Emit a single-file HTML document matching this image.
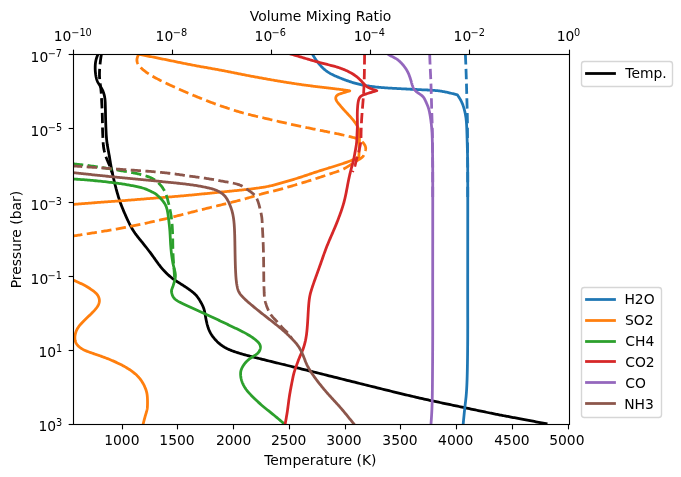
<!DOCTYPE html>
<html lang="en">
<head>
<meta charset="utf-8">
<title>Temperature and volume mixing ratio profiles</title>
<style>
html,body{margin:0;padding:0;background:#fff;}
body{width:681px;height:477px;overflow:hidden;}
svg{display:block;}
text{font-family:"DejaVu Sans","Liberation Sans",sans-serif;font-size:13.889px;fill:#000;}
.sup{font-size:9.722px;}
.sp{fill:none;stroke:#000;stroke-width:1.111;stroke-linecap:square;stroke-linejoin:miter;}
.tk{fill:none;stroke:#000;stroke-width:1.111;stroke-linecap:butt;}
.ln{fill:none;stroke-width:2.778;stroke-linejoin:round;stroke-linecap:square;}
.ld{fill:none;stroke-width:2.778;stroke-linejoin:round;stroke-linecap:butt;stroke-dasharray:10.28 4.44;}
.lg{fill:#fff;fill-opacity:0.8;stroke:#ccc;stroke-opacity:0.8;stroke-width:1.389;}
</style>
</head>
<body>
<svg width="681" height="477" viewBox="0 0 681 477">
<rect x="0" y="0" width="681" height="477" fill="#fff"/>
<clipPath id="ax"><rect x="73" y="54" width="496" height="370"/></clipPath>
<g>
<line class="tk" x1="122.5" y1="424.5" x2="122.5" y2="429.36"/><text x="121.88" y="445" text-anchor="middle">1000</text>
<line class="tk" x1="177.5" y1="424.5" x2="177.5" y2="429.36"/><text x="176.97" y="445" text-anchor="middle">1500</text>
<line class="tk" x1="233.5" y1="424.5" x2="233.5" y2="429.36"/><text x="233.63" y="445" text-anchor="middle">2000</text>
<line class="tk" x1="289.5" y1="424.5" x2="289.5" y2="429.36"/><text x="288.70" y="445" text-anchor="middle">2500</text>
<line class="tk" x1="345.5" y1="424.5" x2="345.5" y2="429.36"/><text x="343.93" y="445" text-anchor="middle">3000</text>
<line class="tk" x1="400.5" y1="424.5" x2="400.5" y2="429.36"/><text x="400.02" y="445" text-anchor="middle">3500</text>
<line class="tk" x1="456.5" y1="424.5" x2="456.5" y2="429.36"/><text x="455.78" y="445" text-anchor="middle">4000</text>
<line class="tk" x1="512.5" y1="424.5" x2="512.5" y2="429.36"/><text x="511.92" y="445" text-anchor="middle">4500</text>
<line class="tk" x1="568.5" y1="424.5" x2="568.5" y2="429.36"/><text x="566.89" y="445" text-anchor="middle">5000</text>
<line class="tk" x1="73.5" y1="54.5" x2="73.5" y2="49.64"/><text y="41"><tspan x="53.68">10</tspan><tspan class="sup" x="71.28" dy="-5">−10</tspan></text>
<line class="tk" x1="172.5" y1="54.5" x2="172.5" y2="49.64"/><text y="41"><tspan x="155.58">10</tspan><tspan class="sup" x="172.77" dy="-5">−8</tspan></text>
<line class="tk" x1="271.5" y1="54.5" x2="271.5" y2="49.64"/><text y="41"><tspan x="254.59">10</tspan><tspan class="sup" x="271.57" dy="-5">−6</tspan></text>
<line class="tk" x1="370.5" y1="54.5" x2="370.5" y2="49.64"/><text y="41"><tspan x="353.65">10</tspan><tspan class="sup" x="370.56" dy="-5">−4</tspan></text>
<line class="tk" x1="469.5" y1="54.5" x2="469.5" y2="49.64"/><text y="41"><tspan x="453.58">10</tspan><tspan class="sup" x="470.59" dy="-5">−2</tspan></text>
<line class="tk" x1="569.5" y1="54.5" x2="569.5" y2="49.64"/><text y="41"><tspan x="556.69">10</tspan><tspan class="sup" x="574.05" dy="-5">0</tspan></text>
<line class="tk" x1="73.5" y1="54.5" x2="68.64" y2="54.5"/><text y="62"><tspan x="30.59">10</tspan><tspan class="sup" x="47.73" dy="-5">−7</tspan></text>
<line class="tk" x1="73.5" y1="128.5" x2="68.64" y2="128.5"/><text y="136"><tspan x="30.59">10</tspan><tspan class="sup" x="47.81" dy="-5">−5</tspan></text>
<line class="tk" x1="73.5" y1="202.5" x2="68.64" y2="202.5"/><text y="210"><tspan x="30.59">10</tspan><tspan class="sup" x="47.66" dy="-5">−3</tspan></text>
<line class="tk" x1="73.5" y1="276.5" x2="68.64" y2="276.5"/><text y="284"><tspan x="30.59">10</tspan><tspan class="sup" x="47.54" dy="-5">−1</tspan></text>
<line class="tk" x1="73.5" y1="350.5" x2="68.64" y2="350.5"/><text y="357"><tspan x="38.55">10</tspan><tspan class="sup" x="55.96" dy="-5">1</tspan></text>
<line class="tk" x1="73.5" y1="424.5" x2="68.64" y2="424.5"/><text y="431"><tspan x="38.55">10</tspan><tspan class="sup" x="56.10" dy="-5">3</tspan></text>
</g>
<text x="320.35" y="465" text-anchor="middle">Temperature (K)</text>
<text x="320.57" y="21" text-anchor="middle">Volume Mixing Ratio</text>
<text transform="translate(21.36 239.61) rotate(-90)" text-anchor="middle">Pressure (bar)</text>
<g clip-path="url(#ax)">
<path class="ln" stroke="#000" d="M98.00 54.20 L97.79 54.71 L97.59 55.22 L97.39 55.73 L97.19 56.25 L97.00 56.77 L96.81 57.29 L96.63 57.82 L96.46 58.35 L96.29 58.90 L96.14 59.44 L96.00 60.00 L95.87 60.57 L95.76 61.14 L95.65 61.73 L95.56 62.32 L95.48 62.91 L95.41 63.51 L95.35 64.11 L95.30 64.72 L95.26 65.32 L95.23 65.93 L95.21 66.53 L95.20 67.13 L95.19 67.73 L95.19 68.33 L95.20 68.92 L95.22 69.52 L95.25 70.11 L95.28 70.70 L95.32 71.29 L95.37 71.89 L95.43 72.48 L95.49 73.08 L95.56 73.68 L95.64 74.28 L95.72 74.89 L95.82 75.49 L95.92 76.10 L96.03 76.70 L96.16 77.30 L96.30 77.90 L96.45 78.49 L96.61 79.07 L96.79 79.64 L96.99 80.21 L97.20 80.76 L97.43 81.29 L97.68 81.82 L97.94 82.33 L98.21 82.83 L98.50 83.33 L98.79 83.81 L99.09 84.29 L99.39 84.77 L99.70 85.24 L100.00 85.72 L100.31 86.19 L100.60 86.67 L100.90 87.15 L101.18 87.63 L101.46 88.12 L101.73 88.61 L102.00 89.10 L102.25 89.60 L102.49 90.10 L102.73 90.61 L102.95 91.13 L103.16 91.65 L103.36 92.17 L103.55 92.70 L103.73 93.23 L103.89 93.77 L104.04 94.32 L104.19 94.86 L104.32 95.41 L104.44 95.96 L104.55 96.51 L104.65 97.06 L104.74 97.61 L104.82 98.16 L104.90 98.70 L104.96 99.25 L105.02 99.81 L105.07 100.37 L105.11 100.94 L105.15 101.52 L105.19 102.11 L105.22 102.72 L105.24 103.35 L105.27 104.00 L105.29 104.67 L105.31 105.37 L105.33 106.09 L105.35 106.84 L105.37 107.61 L105.39 108.39 L105.41 109.20 L105.43 110.01 L105.45 110.84 L105.46 111.68 L105.48 112.52 L105.50 113.37 L105.52 114.22 L105.53 115.07 L105.55 115.92 L105.57 116.76 L105.59 117.60 L105.61 118.42 L105.63 119.24 L105.65 120.04 L105.67 120.84 L105.70 121.63 L105.72 122.41 L105.74 123.19 L105.77 123.96 L105.79 124.73 L105.82 125.50 L105.85 126.26 L105.88 127.03 L105.91 127.79 L105.94 128.56 L105.97 129.33 L106.00 130.10 L106.04 130.88 L106.08 131.66 L106.12 132.44 L106.16 133.23 L106.20 134.02 L106.25 134.82 L106.30 135.62 L106.36 136.42 L106.42 137.22 L106.49 138.03 L106.56 138.84 L106.64 139.66 L106.73 140.47 L106.82 141.29 L106.92 142.11 L107.03 142.94 L107.15 143.76 L107.27 144.59 L107.41 145.41 L107.54 146.24 L107.68 147.06 L107.83 147.88 L107.97 148.69 L108.12 149.49 L108.27 150.29 L108.42 151.08 L108.57 151.87 L108.71 152.64 L108.85 153.40 L108.99 154.14 L109.12 154.87 L109.25 155.59 L109.37 156.30 L109.49 156.99 L109.60 157.67 L109.71 158.35 L109.82 159.02 L109.92 159.69 L110.03 160.36 L110.14 161.04 L110.25 161.73 L110.36 162.43 L110.48 163.14 L110.60 163.87 L110.73 164.61 L110.87 165.38 L111.01 166.17 L111.16 166.98 L111.32 167.80 L111.49 168.64 L111.65 169.49 L111.83 170.35 L112.00 171.21 L112.18 172.07 L112.36 172.94 L112.55 173.80 L112.73 174.66 L112.92 175.51 L113.10 176.35 L113.29 177.17 L113.47 177.98 L113.65 178.77 L113.82 179.54 L114.00 180.29 L114.17 181.02 L114.34 181.73 L114.51 182.43 L114.68 183.12 L114.85 183.81 L115.02 184.49 L115.19 185.17 L115.37 185.84 L115.54 186.52 L115.72 187.21 L115.91 187.90 L116.09 188.61 L116.29 189.33 L116.49 190.06 L116.69 190.80 L116.90 191.56 L117.11 192.33 L117.33 193.10 L117.55 193.89 L117.78 194.67 L118.02 195.46 L118.25 196.26 L118.49 197.05 L118.74 197.85 L118.99 198.64 L119.24 199.43 L119.50 200.22 L119.76 201.00 L120.03 201.77 L120.30 202.54 L120.57 203.29 L120.85 204.05 L121.13 204.80 L121.42 205.55 L121.71 206.29 L122.01 207.04 L122.31 207.80 L122.62 208.55 L122.93 209.31 L123.25 210.08 L123.58 210.85 L123.92 211.64 L124.26 212.43 L124.61 213.24 L124.97 214.06 L125.34 214.90 L125.71 215.74 L126.09 216.60 L126.48 217.47 L126.88 218.35 L127.28 219.23 L127.69 220.11 L128.11 220.99 L128.53 221.88 L128.96 222.76 L129.40 223.64 L129.84 224.51 L130.29 225.37 L130.74 226.23 L131.20 227.07 L131.66 227.90 L132.13 228.71 L132.60 229.51 L133.08 230.29 L133.56 231.04 L134.05 231.78 L134.54 232.51 L135.03 233.22 L135.53 233.91 L136.04 234.60 L136.55 235.28 L137.06 235.95 L137.58 236.61 L138.10 237.28 L138.63 237.94 L139.17 238.60 L139.71 239.26 L140.25 239.93 L140.80 240.60 L141.36 241.28 L141.92 241.97 L142.48 242.66 L143.05 243.37 L143.62 244.09 L144.20 244.81 L144.78 245.54 L145.36 246.27 L145.94 247.01 L146.52 247.75 L147.09 248.49 L147.67 249.24 L148.24 249.98 L148.81 250.73 L149.37 251.47 L149.93 252.21 L150.48 252.95 L151.03 253.68 L151.56 254.41 L152.09 255.13 L152.61 255.84 L153.12 256.55 L153.62 257.24 L154.12 257.93 L154.61 258.62 L155.09 259.29 L155.56 259.95 L156.02 260.60 L156.49 261.25 L156.94 261.88 L157.39 262.50 L157.84 263.11 L158.28 263.71 L158.71 264.30 L159.15 264.87 L159.58 265.43 L160.01 265.98 L160.44 266.52 L160.86 267.05 L161.29 267.57 L161.72 268.08 L162.15 268.58 L162.58 269.08 L163.02 269.57 L163.46 270.06 L163.91 270.54 L164.36 271.03 L164.83 271.51 L165.30 272.00 L165.78 272.48 L166.26 272.97 L166.76 273.46 L167.26 273.94 L167.78 274.43 L168.30 274.91 L168.83 275.39 L169.36 275.86 L169.91 276.33 L170.46 276.80 L171.02 277.26 L171.58 277.71 L172.15 278.16 L172.73 278.60 L173.31 279.03 L173.90 279.45 L174.49 279.87 L175.09 280.28 L175.70 280.68 L176.31 281.08 L176.92 281.48 L177.53 281.87 L178.15 282.26 L178.77 282.66 L179.40 283.05 L180.02 283.44 L180.65 283.83 L181.28 284.23 L181.91 284.62 L182.54 285.02 L183.17 285.43 L183.80 285.83 L184.43 286.24 L185.06 286.65 L185.68 287.06 L186.29 287.47 L186.90 287.88 L187.51 288.29 L188.10 288.70 L188.69 289.12 L189.27 289.53 L189.84 289.94 L190.40 290.35 L190.95 290.76 L191.48 291.16 L192.01 291.57 L192.52 291.98 L193.01 292.39 L193.50 292.79 L193.97 293.20 L194.42 293.62 L194.86 294.03 L195.29 294.44 L195.69 294.86 L196.09 295.28 L196.46 295.71 L196.82 296.14 L197.17 296.58 L197.51 297.02 L197.84 297.47 L198.16 297.92 L198.47 298.39 L198.78 298.87 L199.09 299.36 L199.41 299.86 L199.72 300.37 L200.04 300.90 L200.36 301.44 L200.68 301.99 L201.01 302.55 L201.33 303.13 L201.64 303.71 L201.95 304.30 L202.26 304.89 L202.55 305.49 L202.83 306.10 L203.09 306.71 L203.34 307.31 L203.57 307.92 L203.78 308.53 L203.98 309.14 L204.15 309.75 L204.31 310.36 L204.46 310.96 L204.60 311.57 L204.72 312.17 L204.84 312.78 L204.95 313.38 L205.06 313.98 L205.16 314.58 L205.26 315.19 L205.37 315.79 L205.47 316.39 L205.58 316.99 L205.69 317.59 L205.80 318.19 L205.92 318.80 L206.04 319.41 L206.16 320.02 L206.29 320.63 L206.42 321.25 L206.56 321.87 L206.71 322.50 L206.86 323.13 L207.01 323.77 L207.18 324.41 L207.35 325.06 L207.54 325.71 L207.73 326.37 L207.93 327.02 L208.15 327.68 L208.38 328.33 L208.62 328.99 L208.88 329.64 L209.15 330.29 L209.44 330.94 L209.75 331.59 L210.07 332.23 L210.41 332.87 L210.77 333.50 L211.14 334.13 L211.53 334.75 L211.94 335.36 L212.36 335.97 L212.79 336.58 L213.24 337.17 L213.70 337.76 L214.17 338.34 L214.65 338.91 L215.15 339.47 L215.65 340.03 L216.17 340.57 L216.69 341.11 L217.22 341.64 L217.76 342.15 L218.31 342.66 L218.87 343.16 L219.45 343.65 L220.03 344.13 L220.62 344.59 L221.23 345.05 L221.84 345.50 L222.47 345.93 L223.11 346.36 L223.76 346.77 L224.42 347.18 L225.09 347.57 L225.78 347.95 L226.48 348.32 L227.20 348.68 L227.93 349.04 L228.68 349.38 L229.45 349.72 L230.24 350.05 L231.05 350.38 L231.88 350.71 L232.73 351.03 L233.61 351.34 L234.52 351.66 L235.45 351.97 L236.40 352.29 L237.39 352.60 L238.40 352.92 L239.45 353.24 L240.53 353.56 L241.64 353.88 L242.78 354.21 L243.96 354.54 L245.17 354.88 L246.41 355.22 L247.69 355.57 L249.00 355.92 L250.34 356.27 L251.72 356.63 L253.12 357.00 L254.57 357.37 L256.04 357.75 L257.56 358.13 L259.10 358.52 L260.68 358.91 L262.29 359.32 L263.94 359.72 L265.62 360.14 L267.34 360.56 L269.09 360.99 L270.88 361.43 L272.70 361.88 L274.56 362.33 L276.45 362.79 L278.38 363.26 L280.34 363.74 L282.34 364.23 L284.37 364.72 L286.44 365.23 L288.54 365.74 L290.69 366.27 L292.86 366.80 L295.08 367.34 L297.33 367.90 L299.61 368.46 L301.93 369.03 L304.27 369.61 L306.65 370.20 L309.05 370.80 L311.48 371.40 L313.93 372.01 L316.40 372.63 L318.89 373.25 L321.40 373.88 L323.93 374.51 L326.46 375.14 L329.01 375.78 L331.57 376.42 L334.14 377.06 L336.72 377.70 L339.30 378.35 L341.88 379.00 L344.46 379.64 L347.04 380.29 L349.62 380.93 L352.20 381.58 L354.76 382.22 L357.32 382.86 L359.87 383.49 L362.41 384.13 L364.93 384.76 L367.43 385.38 L369.92 386.00 L372.39 386.61 L374.84 387.22 L377.26 387.82 L379.66 388.42 L382.03 389.00 L384.37 389.58 L386.68 390.15 L388.96 390.71 L391.20 391.26 L393.41 391.80 L395.58 392.33 L397.70 392.85 L399.79 393.35 L401.83 393.85 L403.83 394.33 L405.78 394.79 L407.68 395.25 L409.53 395.69 L411.32 396.11 L413.06 396.52 L414.76 396.92 L416.40 397.30 L418.01 397.67 L419.57 398.03 L421.10 398.38 L422.59 398.71 L424.04 399.04 L425.47 399.36 L426.87 399.67 L428.24 399.97 L429.59 400.27 L430.93 400.56 L432.24 400.85 L433.55 401.13 L434.84 401.40 L436.12 401.68 L437.40 401.95 L438.67 402.22 L439.95 402.49 L441.22 402.76 L442.50 403.03 L443.79 403.30 L445.09 403.57 L446.41 403.85 L447.73 404.12 L449.08 404.41 L450.45 404.69 L451.84 404.99 L453.25 405.28 L454.68 405.59 L456.13 405.89 L457.59 406.20 L459.06 406.51 L460.54 406.82 L462.02 407.14 L463.52 407.45 L465.01 407.77 L466.51 408.08 L468.00 408.40 L469.49 408.72 L470.98 409.03 L472.45 409.34 L473.92 409.65 L475.37 409.96 L476.81 410.26 L478.24 410.56 L479.64 410.85 L481.03 411.14 L482.39 411.43 L483.72 411.70 L485.03 411.98 L486.30 412.24 L487.55 412.50 L488.76 412.75 L489.94 412.99 L491.08 413.22 L492.18 413.44 L493.25 413.66 L494.29 413.87 L495.31 414.07 L496.30 414.27 L497.28 414.46 L498.24 414.65 L499.20 414.84 L500.14 415.02 L501.08 415.20 L502.02 415.38 L502.96 415.56 L503.91 415.74 L504.86 415.93 L505.83 416.11 L506.81 416.30 L507.82 416.49 L508.85 416.68 L509.90 416.88 L510.98 417.09 L512.10 417.30 L513.24 417.51 L514.40 417.73 L515.60 417.96 L516.81 418.19 L518.06 418.42 L519.32 418.66 L520.60 418.90 L521.91 419.15 L523.23 419.40 L524.58 419.65 L525.93 419.90 L527.31 420.16 L528.70 420.42 L530.10 420.69 L531.52 420.95 L532.94 421.22 L534.38 421.49 L535.82 421.77 L537.28 422.04 L538.74 422.31 L540.20 422.59 L541.67 422.87 L543.15 423.14 L544.62 423.42 L546.10 423.70"/>
<path class="ld" stroke="#000" stroke-dashoffset="0" d="M101.40 54.20 L101.24 55.23 L101.09 56.26 L100.93 57.30 L100.78 58.34 L100.63 59.38 L100.49 60.44 L100.36 61.50 L100.23 62.58 L100.12 63.67 L100.01 64.75 L99.91 65.84 L99.81 66.91 L99.73 67.97 L99.66 69.00 L99.60 70.00 L99.55 70.97 L99.51 71.91 L99.48 72.83 L99.47 73.74 L99.47 74.64 L99.48 75.54 L99.52 76.45 L99.57 77.37 L99.63 78.29 L99.71 79.22 L99.80 80.14 L99.89 81.06 L100.00 81.97 L100.10 82.87 L100.21 83.76 L100.32 84.64 L100.43 85.53 L100.55 86.42 L100.66 87.33 L100.76 88.25 L100.87 89.20 L100.97 90.15 L101.06 91.11 L101.15 92.06 L101.23 93.00 L101.29 93.92 L101.35 94.81 L101.40 95.70 L101.45 96.58 L101.49 97.48 L101.53 98.41 L101.57 99.38 L101.62 100.41 L101.67 101.50 L101.73 102.64 L101.79 103.82 L101.86 105.03 L101.92 106.26 L101.98 107.50 L102.04 108.74 L102.10 109.97 L102.15 111.19 L102.20 112.38 L102.24 113.56 L102.28 114.74 L102.31 115.92 L102.34 117.09 L102.37 118.28 L102.39 119.48 L102.41 120.70 L102.43 121.93 L102.45 123.18 L102.47 124.44 L102.49 125.70 L102.51 126.96 L102.53 128.21 L102.56 129.46 L102.59 130.70 L102.63 131.91 L102.67 133.11 L102.72 134.28 L102.77 135.44 L102.83 136.56 L102.88 137.66 L102.94 138.73 L102.99 139.77 L103.04 140.77 L103.09 141.75 L103.15 142.71 L103.21 143.66 L103.29 144.60 L103.38 145.54 L103.50 146.48 L103.64 147.45 L103.80 148.42 L103.98 149.39 L104.17 150.35 L104.38 151.30 L104.60 152.22 L104.83 153.12 L105.07 153.99 L105.31 154.82 L105.57 155.64 L105.83 156.44 L106.12 157.24 L106.41 158.04 L106.73 158.84 L107.06 159.65 L107.41 160.46 L107.75 161.27 L108.10 162.08 L108.45 162.88 L108.79 163.68 L109.13 164.48 L109.45 165.28 L109.77 166.09 L110.09 166.90 L110.40 167.73 L110.71 168.59 L111.01 169.46 L111.32 170.35 L111.61 171.25 L111.91 172.16 L112.21 173.08 L112.50 174.00"/>
<path class="ln" stroke="#1f77b4" d="M312.40 54.20 L312.79 54.84 L313.18 55.48 L313.57 56.12 L313.97 56.76 L314.37 57.39 L314.78 58.03 L315.20 58.67 L315.63 59.31 L316.07 59.95 L316.52 60.59 L316.98 61.23 L317.46 61.87 L317.94 62.51 L318.45 63.15 L318.97 63.78 L319.50 64.41 L320.05 65.05 L320.61 65.67 L321.19 66.30 L321.79 66.92 L322.41 67.54 L323.04 68.15 L323.69 68.75 L324.36 69.35 L325.06 69.93 L325.77 70.51 L326.51 71.07 L327.27 71.62 L328.06 72.15 L328.87 72.67 L329.70 73.17 L330.56 73.66 L331.44 74.13 L332.34 74.59 L333.26 75.04 L334.19 75.47 L335.13 75.90 L336.09 76.32 L337.05 76.73 L338.02 77.14 L339.00 77.54 L339.98 77.93 L340.96 78.33 L341.95 78.72 L342.93 79.10 L343.92 79.48 L344.91 79.85 L345.90 80.22 L346.89 80.58 L347.87 80.93 L348.86 81.28 L349.85 81.61 L350.84 81.94 L351.82 82.25 L352.81 82.55 L353.79 82.85 L354.78 83.13 L355.76 83.40 L356.75 83.66 L357.75 83.91 L358.74 84.15 L359.75 84.38 L360.76 84.60 L361.78 84.82 L362.82 85.03 L363.86 85.23 L364.92 85.42 L365.98 85.61 L367.07 85.79 L368.16 85.97 L369.26 86.13 L370.37 86.30 L371.49 86.45 L372.61 86.60 L373.74 86.75 L374.87 86.88 L376.00 87.01 L377.14 87.14 L378.27 87.25 L379.40 87.36 L380.53 87.47 L381.66 87.56 L382.78 87.65 L383.90 87.74 L385.02 87.82 L386.14 87.90 L387.25 87.97 L388.37 88.04 L389.48 88.11 L390.60 88.17 L391.71 88.23 L392.83 88.29 L393.94 88.35 L395.06 88.41 L396.18 88.47 L397.30 88.53 L398.42 88.59 L399.54 88.65 L400.66 88.71 L401.79 88.77 L402.92 88.83 L404.04 88.89 L405.17 88.95 L406.30 89.01 L407.43 89.07 L408.56 89.13 L409.70 89.18 L410.83 89.24 L411.96 89.30 L413.10 89.35 L414.23 89.41 L415.36 89.46 L416.49 89.51 L417.61 89.57 L418.74 89.62 L419.85 89.67 L420.97 89.72 L422.07 89.77 L423.17 89.82 L424.26 89.87 L425.35 89.92 L426.43 89.96 L427.49 90.01 L428.55 90.06 L429.60 90.11 L430.64 90.17 L431.66 90.22 L432.68 90.29 L433.68 90.36 L434.67 90.43 L435.65 90.52 L436.62 90.61 L437.57 90.71 L438.51 90.82 L439.44 90.94 L440.36 91.07 L441.26 91.21 L442.17 91.36 L443.06 91.52 L443.95 91.68 L444.84 91.85 L445.72 92.04 L446.61 92.23 L447.50 92.42 L448.39 92.63 L449.28 92.83 L450.18 93.05 L451.08 93.27 L451.98 93.49 L452.88 93.72 L453.78 93.95 L454.68 94.19 L455.59 94.42 L456.49 94.66 L457.40 94.90 L457.66 95.28 L457.91 95.65 L458.17 96.03 L458.42 96.41 L458.67 96.79 L458.92 97.17 L459.17 97.56 L459.42 97.95 L459.66 98.35 L459.91 98.75 L460.15 99.16 L460.38 99.57 L460.62 99.99 L460.85 100.42 L461.07 100.85 L461.30 101.29 L461.51 101.74 L461.73 102.20 L461.93 102.67 L462.14 103.14 L462.34 103.63 L462.53 104.11 L462.72 104.61 L462.91 105.11 L463.09 105.61 L463.27 106.12 L463.44 106.63 L463.60 107.15 L463.77 107.67 L463.92 108.19 L464.08 108.72 L464.22 109.25 L464.37 109.78 L464.51 110.31 L464.64 110.84 L464.77 111.37 L464.89 111.91 L465.01 112.44 L465.12 112.98 L465.23 113.52 L465.34 114.06 L465.44 114.60 L465.54 115.14 L465.63 115.69 L465.72 116.23 L465.80 116.78 L465.88 117.33 L465.96 117.88 L466.03 118.43 L466.10 118.99 L466.16 119.55 L466.22 120.10 L466.28 120.66 L466.33 121.23 L466.38 121.79 L466.43 122.36 L466.47 122.94 L466.51 123.51 L466.55 124.10 L466.59 124.68 L466.62 125.28 L466.65 125.88 L466.68 126.48 L466.71 127.10 L466.74 127.72 L466.76 128.35 L466.79 128.98 L466.81 129.63 L466.83 130.29 L466.86 130.95 L466.88 131.63 L466.90 132.31 L466.92 133.01 L466.94 133.72 L466.97 134.44 L466.99 135.16 L467.01 135.89 L467.03 136.63 L467.05 137.37 L467.08 138.12 L467.10 138.87 L467.12 139.62 L467.14 140.37 L467.16 141.12 L467.18 141.87 L467.20 142.62 L467.23 143.36 L467.25 144.10 L467.27 144.83 L467.29 145.56 L467.31 146.28 L467.32 146.98 L467.34 147.68 L467.36 148.37 L467.38 149.05 L467.40 149.71 L467.41 150.36 L467.43 151.00 L467.45 151.62 L467.46 152.25 L467.48 152.86 L467.49 153.48 L467.51 154.10 L467.52 154.72 L467.54 155.35 L467.55 155.98 L467.56 156.63 L467.57 157.30 L467.59 157.98 L467.60 158.68 L467.61 159.41 L467.62 160.16 L467.63 160.94 L467.64 161.75 L467.65 162.59 L467.66 163.47 L467.67 164.39 L467.68 165.35 L467.68 166.35 L467.69 167.40 L467.70 168.51 L467.70 169.66 L467.71 170.87 L467.72 172.13 L467.72 173.43 L467.73 174.79 L467.73 176.19 L467.73 177.64 L467.74 179.14 L467.74 180.67 L467.74 182.25 L467.75 183.87 L467.75 185.52 L467.75 187.22 L467.75 188.95 L467.76 190.71 L467.76 192.50 L467.76 194.33 L467.76 196.19 L467.76 198.07 L467.76 199.98 L467.76 201.92 L467.76 203.88 L467.76 205.87 L467.76 207.87 L467.76 209.90 L467.76 211.94 L467.76 214.00 L467.76 216.07 L467.75 218.16 L467.75 220.27 L467.75 222.38 L467.75 224.50 L467.75 226.63 L467.75 228.77 L467.74 230.92 L467.74 233.06 L467.74 235.21 L467.74 237.37 L467.74 239.52 L467.73 241.67 L467.73 243.81 L467.73 245.95 L467.73 248.09 L467.73 250.22 L467.72 252.34 L467.72 254.44 L467.72 256.54 L467.72 258.62 L467.72 260.69 L467.71 262.75 L467.71 264.78 L467.71 266.80 L467.71 268.79 L467.71 270.77 L467.71 272.72 L467.70 274.64 L467.70 276.54 L467.70 278.41 L467.70 280.26 L467.70 282.07 L467.70 283.85 L467.70 285.60 L467.70 287.31 L467.70 288.99 L467.70 290.63 L467.70 292.23 L467.70 293.80 L467.70 295.34 L467.70 296.85 L467.70 298.32 L467.71 299.77 L467.71 301.18 L467.71 302.57 L467.71 303.93 L467.71 305.27 L467.71 306.58 L467.71 307.87 L467.72 309.14 L467.72 310.38 L467.72 311.61 L467.72 312.81 L467.72 314.00 L467.72 315.17 L467.72 316.33 L467.73 317.46 L467.73 318.59 L467.73 319.70 L467.73 320.81 L467.73 321.90 L467.73 322.98 L467.73 324.05 L467.73 325.11 L467.73 326.17 L467.73 327.23 L467.73 328.27 L467.72 329.32 L467.72 330.36 L467.72 331.41 L467.72 332.45 L467.72 333.49 L467.71 334.54 L467.71 335.59 L467.71 336.64 L467.70 337.70 L467.70 338.76 L467.69 339.83 L467.69 340.91 L467.68 341.99 L467.67 343.08 L467.67 344.17 L467.66 345.26 L467.65 346.35 L467.64 347.45 L467.63 348.55 L467.62 349.65 L467.61 350.75 L467.60 351.85 L467.59 352.95 L467.58 354.04 L467.57 355.14 L467.55 356.23 L467.54 357.32 L467.53 358.41 L467.51 359.49 L467.50 360.57 L467.48 361.64 L467.46 362.71 L467.45 363.77 L467.43 364.82 L467.41 365.87 L467.39 366.90 L467.37 367.93 L467.35 368.95 L467.33 369.96 L467.31 370.96 L467.28 371.94 L467.26 372.92 L467.24 373.88 L467.21 374.83 L467.19 375.77 L467.16 376.69 L467.13 377.60 L467.11 378.50 L467.08 379.38 L467.05 380.25 L467.02 381.11 L466.98 381.96 L466.95 382.79 L466.92 383.61 L466.88 384.41 L466.85 385.21 L466.81 385.99 L466.77 386.76 L466.73 387.52 L466.69 388.26 L466.65 389.00 L466.61 389.72 L466.57 390.43 L466.52 391.13 L466.47 391.82 L466.43 392.49 L466.38 393.16 L466.32 393.82 L466.27 394.46 L466.22 395.09 L466.16 395.72 L466.11 396.33 L466.05 396.93 L465.99 397.53 L465.93 398.12 L465.86 398.71 L465.80 399.29 L465.74 399.86 L465.67 400.44 L465.60 401.01 L465.54 401.58 L465.47 402.16 L465.40 402.73 L465.33 403.31 L465.26 403.90 L465.19 404.49 L465.12 405.08 L465.05 405.68 L464.98 406.29 L464.91 406.91 L464.84 407.54 L464.77 408.19 L464.70 408.84 L464.63 409.50 L464.55 410.17 L464.48 410.84 L464.41 411.53 L464.34 412.22 L464.27 412.93 L464.20 413.63 L464.13 414.35 L464.06 415.07 L463.98 415.79 L463.91 416.52 L463.84 417.26 L463.77 418.00 L463.70 418.74 L463.63 419.49 L463.56 420.23 L463.49 420.98 L463.41 421.74 L463.34 422.49 L463.27 423.24 L463.20 424.00"/>
<path class="ld" stroke="#1f77b4" stroke-dashoffset="0" d="M465.40 54.20 L465.44 55.17 L465.48 56.15 L465.52 57.12 L465.56 58.10 L465.60 59.08 L465.64 60.06 L465.68 61.04 L465.72 62.03 L465.76 63.02 L465.80 64.01 L465.84 65.01 L465.88 66.01 L465.92 67.01 L465.96 68.03 L465.99 69.04 L466.03 70.07 L466.07 71.10 L466.10 72.14 L466.14 73.18 L466.17 74.24 L466.21 75.30 L466.24 76.37 L466.28 77.45 L466.31 78.54 L466.34 79.63 L466.38 80.73 L466.41 81.83 L466.44 82.93 L466.47 84.04 L466.50 85.15 L466.53 86.27 L466.56 87.38 L466.59 88.50 L466.62 89.61 L466.65 90.72 L466.68 91.84 L466.71 92.94 L466.74 94.05 L466.77 95.15 L466.80 96.24 L466.83 97.33 L466.86 98.42 L466.89 99.49 L466.92 100.56 L466.95 101.62 L466.98 102.67 L467.01 103.71 L467.04 104.75 L467.06 105.77 L467.09 106.79 L467.12 107.80 L467.15 108.80 L467.18 109.80 L467.20 110.78 L467.23 111.76 L467.25 112.73 L467.27 113.69 L467.30 114.64 L467.32 115.58 L467.34 116.52 L467.36 117.44 L467.37 118.36 L467.39 119.27 L467.40 120.18 L467.42 121.07 L467.43 121.96 L467.44 122.84 L467.45 123.71 L467.45 124.58 L467.46 125.44 L467.47 126.30 L467.47 127.16 L467.48 128.00 L467.48 128.85 L467.48 129.69 L467.48 130.53 L467.49 131.37 L467.49 132.21 L467.49 133.05 L467.50 133.88 L467.50 134.72 L467.50 135.55 L467.51 136.39 L467.51 137.23 L467.52 138.07 L467.52 138.91 L467.53 139.76 L467.53 140.60 L467.54 141.45 L467.54 142.30 L467.55 143.15 L467.55 144.00 L467.56 144.86 L467.57 145.72 L467.57 146.58 L467.58 147.45 L467.59 148.32 L467.59 149.19 L467.60 150.07 L467.61 150.95 L467.61 151.83 L467.62 152.72 L467.63 153.62 L467.63 154.52 L467.64 155.43 L467.64 156.35 L467.65 157.28 L467.66 158.22 L467.66 159.16 L467.67 160.12 L467.67 161.09 L467.68 162.07 L467.68 163.06 L467.68 164.06 L467.69 165.08 L467.69 166.11 L467.69 167.16 L467.70 168.23 L467.70 169.31 L467.70 170.40 L467.71 171.52 L467.71 172.65 L467.71 173.79 L467.71 174.95 L467.71 176.12 L467.71 177.30 L467.71 178.49 L467.71 179.70 L467.71 180.92 L467.71 182.14 L467.71 183.38 L467.71 184.63 L467.71 185.88 L467.71 187.14 L467.71 188.41 L467.71 189.68 L467.71 190.96 L467.71 192.24 L467.71 193.53 L467.71 194.82 L467.70 196.11 L467.70 197.41 L467.70 198.70 L467.70 200.00"/>
<path class="ln" stroke="#ff7f0e" d="M138.60 54.20 L139.77 54.43 L140.94 54.67 L142.11 54.90 L143.28 55.13 L144.44 55.37 L145.61 55.60 L146.77 55.83 L147.93 56.06 L149.09 56.30 L150.25 56.53 L151.40 56.76 L152.55 56.99 L153.70 57.22 L154.84 57.45 L155.98 57.68 L157.12 57.91 L158.25 58.13 L159.37 58.36 L160.49 58.59 L161.60 58.81 L162.71 59.04 L163.81 59.26 L164.91 59.48 L166.00 59.70 L167.08 59.92 L168.15 60.14 L169.22 60.36 L170.28 60.58 L171.33 60.79 L172.37 61.01 L173.41 61.22 L174.44 61.43 L175.46 61.64 L176.48 61.85 L177.49 62.06 L178.50 62.27 L179.51 62.47 L180.51 62.68 L181.51 62.88 L182.51 63.09 L183.50 63.29 L184.50 63.49 L185.49 63.69 L186.49 63.89 L187.48 64.09 L188.48 64.28 L189.47 64.48 L190.47 64.67 L191.47 64.87 L192.48 65.06 L193.49 65.25 L194.50 65.44 L195.52 65.63 L196.54 65.82 L197.56 66.01 L198.59 66.20 L199.62 66.39 L200.66 66.57 L201.69 66.76 L202.73 66.94 L203.76 67.13 L204.80 67.31 L205.83 67.49 L206.86 67.68 L207.89 67.86 L208.92 68.04 L209.94 68.22 L210.96 68.40 L211.98 68.58 L212.98 68.76 L213.99 68.94 L214.98 69.12 L215.97 69.30 L216.96 69.48 L217.93 69.65 L218.89 69.83 L219.85 70.01 L220.79 70.19 L221.73 70.36 L222.65 70.54 L223.57 70.72 L224.49 70.90 L225.39 71.07 L226.30 71.25 L227.19 71.43 L228.09 71.61 L228.98 71.79 L229.87 71.97 L230.77 72.14 L231.66 72.32 L232.55 72.50 L233.45 72.69 L234.35 72.87 L235.25 73.05 L236.16 73.23 L237.07 73.42 L237.99 73.60 L238.92 73.79 L239.86 73.97 L240.81 74.16 L241.76 74.35 L242.73 74.54 L243.70 74.73 L244.68 74.92 L245.67 75.11 L246.66 75.30 L247.66 75.49 L248.67 75.68 L249.68 75.88 L250.70 76.07 L251.72 76.26 L252.74 76.45 L253.77 76.65 L254.80 76.84 L255.84 77.03 L256.87 77.22 L257.91 77.41 L258.95 77.60 L259.99 77.79 L261.03 77.98 L262.07 78.17 L263.11 78.36 L264.15 78.55 L265.18 78.73 L266.22 78.92 L267.25 79.10 L268.28 79.28 L269.31 79.47 L270.33 79.65 L271.36 79.82 L272.38 80.00 L273.40 80.18 L274.42 80.35 L275.43 80.53 L276.45 80.70 L277.46 80.87 L278.47 81.04 L279.48 81.21 L280.49 81.38 L281.50 81.55 L282.50 81.71 L283.51 81.88 L284.51 82.04 L285.51 82.20 L286.51 82.36 L287.51 82.52 L288.50 82.68 L289.50 82.84 L290.49 82.99 L291.48 83.15 L292.48 83.30 L293.47 83.45 L294.46 83.60 L295.45 83.75 L296.45 83.89 L297.44 84.04 L298.44 84.19 L299.44 84.33 L300.44 84.47 L301.44 84.62 L302.45 84.76 L303.46 84.90 L304.47 85.04 L305.49 85.18 L306.52 85.32 L307.54 85.45 L308.58 85.59 L309.62 85.73 L310.66 85.86 L311.72 86.00 L312.78 86.13 L313.84 86.27 L314.92 86.40 L316.00 86.54 L317.09 86.67 L318.18 86.80 L319.28 86.94 L320.38 87.07 L321.48 87.20 L322.57 87.33 L323.67 87.46 L324.76 87.59 L325.84 87.71 L326.92 87.84 L327.98 87.97 L329.04 88.09 L330.08 88.21 L331.11 88.33 L332.12 88.45 L333.12 88.57 L334.10 88.69 L335.05 88.80 L335.99 88.91 L336.90 89.03 L337.78 89.13 L338.64 89.24 L339.47 89.35 L340.27 89.45 L341.04 89.55 L341.78 89.65 L342.50 89.74 L343.19 89.84 L343.86 89.93 L344.51 90.02 L345.15 90.11 L345.76 90.20 L346.37 90.29 L346.96 90.37 L347.54 90.46 L348.11 90.55 L348.68 90.63 L349.24 90.72 L349.80 90.80 L348.77 91.12 L347.74 91.43 L346.71 91.75 L345.69 92.06 L344.66 92.38 L343.64 92.69 L342.62 93.00 L341.61 93.31 L340.61 93.63 L339.66 93.97 L338.76 94.34 L337.95 94.75 L337.24 95.21 L336.66 95.75 L336.22 96.36 L335.91 97.02 L335.76 97.73 L335.74 98.46 L335.87 99.21 L336.14 99.96 L336.52 100.72 L337.00 101.49 L337.55 102.26 L338.16 103.05 L338.80 103.85 L339.46 104.66 L340.14 105.49 L340.84 106.33 L341.56 107.18 L342.30 108.03 L343.06 108.90 L343.84 109.77 L344.64 110.65 L345.46 111.53 L346.29 112.41 L347.13 113.30 L347.98 114.20 L348.82 115.10 L349.66 116.02 L350.50 116.93 L351.31 117.86 L352.11 118.79 L352.89 119.72 L353.63 120.65 L354.35 121.58 L355.02 122.49 L355.66 123.40 L356.24 124.29 L356.77 125.15 L357.25 126.00 L357.67 126.84 L358.04 127.67 L358.36 128.50 L358.63 129.35 L358.85 130.22 L359.02 131.10 L359.15 132.01 L359.25 132.94 L359.32 133.89 L359.37 134.86 L359.40 135.84 L359.42 136.83 L359.43 137.83 L359.43 138.84 L359.43 139.86 L359.43 140.88 L359.42 141.90 L359.40 142.92 L359.38 143.94 L359.36 144.95 L359.34 145.96 L359.31 146.97 L359.28 147.99 L359.24 149.00 L359.20 150.01 L359.15 151.03 L359.10 152.06 L359.05 153.08 L358.99 154.11 L358.93 155.14 L358.86 156.17 L358.80 157.20 L358.24 157.46 L357.68 157.73 L357.11 157.99 L356.54 158.26 L355.97 158.52 L355.38 158.79 L354.78 159.05 L354.17 159.32 L353.55 159.59 L352.91 159.86 L352.25 160.14 L351.58 160.41 L350.88 160.69 L350.16 160.96 L349.43 161.24 L348.68 161.52 L347.92 161.80 L347.14 162.08 L346.36 162.36 L345.56 162.64 L344.76 162.92 L343.96 163.19 L343.15 163.46 L342.34 163.73 L341.54 164.00 L340.73 164.26 L339.93 164.52 L339.14 164.78 L338.35 165.03 L337.57 165.28 L336.79 165.52 L336.01 165.76 L335.23 166.01 L334.45 166.25 L333.67 166.49 L332.89 166.73 L332.10 166.97 L331.31 167.21 L330.51 167.46 L329.71 167.70 L328.89 167.95 L328.07 168.21 L327.24 168.47 L326.40 168.73 L325.54 168.99 L324.68 169.26 L323.82 169.54 L322.94 169.81 L322.06 170.09 L321.18 170.37 L320.29 170.65 L319.40 170.94 L318.51 171.23 L317.61 171.52 L316.72 171.81 L315.82 172.10 L314.93 172.39 L314.03 172.69 L313.14 172.99 L312.26 173.28 L311.37 173.58 L310.49 173.88 L309.61 174.17 L308.73 174.47 L307.86 174.77 L306.98 175.06 L306.11 175.36 L305.24 175.65 L304.36 175.94 L303.49 176.23 L302.62 176.52 L301.75 176.81 L300.88 177.10 L300.00 177.38 L299.13 177.66 L298.26 177.94 L297.38 178.22 L296.50 178.49 L295.62 178.76 L294.74 179.03 L293.86 179.30 L292.98 179.56 L292.10 179.83 L291.22 180.09 L290.34 180.35 L289.46 180.61 L288.57 180.87 L287.69 181.12 L286.81 181.38 L285.93 181.64 L285.05 181.90 L284.17 182.15 L283.29 182.41 L282.41 182.66 L281.53 182.92 L280.65 183.17 L279.78 183.42 L278.90 183.67 L278.02 183.92 L277.14 184.17 L276.26 184.41 L275.38 184.64 L274.50 184.87 L273.62 185.10 L272.74 185.32 L271.85 185.54 L270.97 185.75 L270.08 185.95 L269.19 186.15 L268.30 186.33 L267.40 186.51 L266.51 186.69 L265.61 186.85 L264.71 187.02 L263.81 187.17 L262.92 187.32 L262.02 187.46 L261.12 187.60 L260.23 187.74 L259.33 187.87 L258.44 188.00 L257.55 188.12 L256.66 188.24 L255.77 188.36 L254.89 188.48 L254.01 188.59 L253.13 188.70 L252.25 188.81 L251.38 188.92 L250.50 189.03 L249.62 189.13 L248.75 189.24 L247.86 189.34 L246.98 189.44 L246.09 189.54 L245.19 189.64 L244.28 189.74 L243.37 189.84 L242.45 189.94 L241.52 190.04 L240.58 190.14 L239.63 190.24 L238.66 190.34 L237.69 190.44 L236.70 190.54 L235.70 190.64 L234.69 190.74 L233.67 190.84 L232.64 190.94 L231.60 191.04 L230.55 191.15 L229.49 191.25 L228.43 191.35 L227.35 191.46 L226.26 191.56 L225.17 191.67 L224.07 191.78 L222.96 191.89 L221.85 192.00 L220.72 192.11 L219.59 192.22 L218.46 192.33 L217.32 192.45 L216.17 192.56 L215.02 192.68 L213.86 192.80 L212.70 192.91 L211.53 193.03 L210.36 193.15 L209.19 193.27 L208.02 193.39 L206.84 193.51 L205.66 193.63 L204.48 193.75 L203.30 193.86 L202.11 193.98 L200.93 194.10 L199.75 194.22 L198.56 194.33 L197.38 194.45 L196.20 194.57 L195.02 194.68 L193.84 194.79 L192.66 194.90 L191.49 195.01 L190.31 195.12 L189.14 195.23 L187.97 195.34 L186.80 195.45 L185.63 195.55 L184.46 195.66 L183.30 195.76 L182.13 195.86 L180.97 195.96 L179.80 196.07 L178.64 196.17 L177.47 196.27 L176.31 196.37 L175.14 196.46 L173.98 196.56 L172.81 196.66 L171.65 196.76 L170.48 196.85 L169.31 196.95 L168.15 197.04 L166.98 197.14 L165.81 197.23 L164.64 197.33 L163.47 197.42 L162.30 197.51 L161.13 197.61 L159.96 197.70 L158.78 197.79 L157.61 197.89 L156.44 197.98 L155.27 198.07 L154.10 198.17 L152.92 198.26 L151.75 198.35 L150.58 198.45 L149.41 198.54 L148.23 198.63 L147.06 198.73 L145.89 198.82 L144.72 198.91 L143.55 199.01 L142.38 199.10 L141.21 199.20 L140.03 199.29 L138.86 199.39 L137.69 199.49 L136.52 199.58 L135.35 199.68 L134.18 199.77 L133.01 199.87 L131.84 199.96 L130.67 200.06 L129.50 200.15 L128.33 200.24 L127.16 200.34 L125.99 200.43 L124.82 200.52 L123.64 200.61 L122.47 200.70 L121.30 200.79 L120.13 200.88 L118.95 200.97 L117.78 201.06 L116.60 201.14 L115.43 201.23 L114.25 201.32 L113.08 201.40 L111.90 201.48 L110.73 201.57 L109.56 201.65 L108.38 201.73 L107.21 201.82 L106.04 201.90 L104.87 201.98 L103.70 202.07 L102.54 202.15 L101.37 202.23 L100.21 202.32 L99.04 202.40 L97.88 202.49 L96.72 202.57 L95.57 202.66 L94.41 202.74 L93.26 202.83 L92.12 202.92 L90.97 203.01 L89.83 203.10 L88.70 203.19 L87.58 203.27 L86.46 203.36 L85.35 203.45 L84.25 203.54 L83.15 203.63 L82.07 203.72 L81.00 203.80 L79.94 203.89 L78.90 203.97 L77.87 204.06 L76.85 204.14 L75.85 204.22 L74.86 204.31 L73.89 204.38 L72.94 204.46 L72.00 204.54 L71.08 204.61 L70.17 204.69 L69.28 204.76 L68.39 204.83 L67.52 204.90 L66.66 204.97 L65.81 205.04 L64.97 205.10 L64.13 205.17 L63.30 205.24 L62.47 205.30 L61.64 205.37 L60.82 205.43 L60.00 205.50"/>
<path class="ln" stroke="#ff7f0e" d="M60.00 273.00 L61.17 273.63 L62.34 274.26 L63.51 274.89 L64.67 275.51 L65.83 276.13 L66.99 276.74 L68.14 277.35 L69.28 277.94 L70.42 278.52 L71.54 279.09 L72.66 279.65 L73.77 280.19 L74.86 280.71 L75.95 281.22 L77.02 281.72 L78.07 282.20 L79.11 282.68 L80.12 283.15 L81.12 283.62 L82.10 284.09 L83.05 284.55 L83.98 285.02 L84.89 285.50 L85.77 285.98 L86.62 286.48 L87.46 286.97 L88.27 287.48 L89.07 287.99 L89.85 288.51 L90.62 289.03 L91.38 289.56 L92.14 290.10 L92.88 290.64 L93.62 291.19 L94.33 291.75 L95.02 292.33 L95.68 292.93 L96.30 293.55 L96.88 294.19 L97.40 294.87 L97.87 295.57 L98.29 296.30 L98.64 297.05 L98.92 297.82 L99.15 298.60 L99.30 299.39 L99.38 300.18 L99.40 300.97 L99.34 301.74 L99.21 302.51 L99.01 303.27 L98.75 304.03 L98.44 304.78 L98.07 305.52 L97.64 306.26 L97.18 307.00 L96.67 307.74 L96.12 308.47 L95.53 309.20 L94.91 309.92 L94.27 310.65 L93.60 311.37 L92.91 312.08 L92.20 312.80 L91.49 313.51 L90.76 314.22 L90.02 314.92 L89.27 315.63 L88.52 316.34 L87.77 317.05 L87.01 317.77 L86.25 318.49 L85.50 319.22 L84.74 319.96 L84.00 320.70 L83.26 321.45 L82.53 322.20 L81.83 322.96 L81.15 323.72 L80.49 324.47 L79.87 325.21 L79.28 325.95 L78.73 326.67 L78.23 327.39 L77.78 328.08 L77.37 328.77 L77.00 329.46 L76.66 330.13 L76.36 330.81 L76.09 331.49 L75.84 332.17 L75.62 332.86 L75.43 333.56 L75.26 334.27 L75.12 334.99 L75.01 335.72 L74.94 336.47 L74.89 337.24 L74.88 338.02 L74.91 338.81 L74.98 339.61 L75.11 340.42 L75.30 341.22 L75.56 342.01 L75.89 342.79 L76.30 343.55 L76.79 344.29 L77.36 345.01 L77.99 345.71 L78.69 346.39 L79.45 347.04 L80.27 347.67 L81.14 348.27 L82.07 348.85 L83.03 349.40 L84.04 349.92 L85.09 350.41 L86.16 350.89 L87.26 351.35 L88.39 351.78 L89.53 352.21 L90.68 352.62 L91.84 353.03 L93.00 353.42 L94.16 353.81 L95.31 354.21 L96.45 354.60 L97.58 354.99 L98.71 355.38 L99.82 355.77 L100.93 356.17 L102.04 356.57 L103.14 356.98 L104.24 357.39 L105.33 357.80 L106.43 358.22 L107.52 358.65 L108.61 359.08 L109.71 359.52 L110.80 359.97 L111.90 360.43 L113.00 360.90 L114.10 361.38 L115.20 361.87 L116.30 362.37 L117.41 362.89 L118.52 363.42 L119.63 363.96 L120.74 364.52 L121.85 365.10 L122.96 365.69 L124.06 366.29 L125.16 366.91 L126.25 367.55 L127.33 368.19 L128.39 368.85 L129.43 369.52 L130.45 370.21 L131.45 370.91 L132.42 371.61 L133.36 372.33 L134.28 373.07 L135.17 373.82 L136.03 374.58 L136.86 375.36 L137.66 376.16 L138.44 376.99 L139.18 377.83 L139.90 378.70 L140.59 379.60 L141.26 380.53 L141.89 381.48 L142.50 382.45 L143.07 383.44 L143.61 384.44 L144.12 385.44 L144.59 386.44 L145.02 387.43 L145.42 388.40 L145.77 389.35 L146.09 390.27 L146.36 391.16 L146.60 392.02 L146.80 392.88 L146.96 393.73 L147.10 394.58 L147.21 395.46 L147.30 396.36 L147.37 397.30 L147.42 398.29 L147.47 399.33 L147.49 400.39 L147.51 401.47 L147.51 402.53 L147.51 403.57 L147.49 404.57 L147.47 405.51 L147.43 406.36 L147.39 407.12 L147.34 407.77 L147.28 408.36 L147.20 408.90 L147.10 409.44 L146.97 410.02 L146.81 410.67 L146.61 411.39 L146.39 412.17 L146.15 413.01 L145.89 413.89 L145.62 414.79 L145.36 415.71 L145.09 416.63 L144.83 417.54 L144.59 418.42 L144.36 419.30 L144.13 420.15 L143.92 421.00 L143.71 421.83 L143.50 422.66 L143.30 423.48 L143.10 424.30"/>
<path class="ld" stroke="#ff7f0e" stroke-dashoffset="0" d="M138.60 54.20 L138.34 54.81 L138.09 55.42 L137.85 56.03 L137.63 56.63 L137.42 57.24 L137.25 57.84 L137.10 58.43 L136.99 59.02 L136.92 59.60 L136.90 60.18 L136.93 60.75 L137.00 61.32 L137.12 61.88 L137.29 62.43 L137.49 62.98 L137.74 63.52 L138.02 64.07 L138.34 64.61 L138.70 65.14 L139.08 65.68 L139.50 66.21 L139.94 66.74 L140.42 67.27 L140.93 67.80 L141.47 68.32 L142.04 68.85 L142.63 69.38 L143.26 69.91 L143.91 70.43 L144.59 70.96 L145.29 71.49 L146.03 72.02 L146.78 72.55 L147.56 73.08 L148.36 73.61 L149.17 74.14 L150.00 74.66 L150.84 75.18 L151.69 75.69 L152.56 76.20 L153.43 76.71 L154.30 77.20 L155.18 77.69 L156.05 78.17 L156.93 78.65 L157.80 79.11 L158.67 79.57 L159.53 80.01 L160.39 80.45 L161.25 80.88 L162.10 81.30 L162.95 81.72 L163.80 82.13 L164.64 82.54 L165.49 82.94 L166.33 83.34 L167.17 83.73 L168.02 84.13 L168.86 84.52 L169.70 84.91 L170.55 85.30 L171.40 85.69 L172.24 86.08 L173.09 86.47 L173.94 86.86 L174.79 87.24 L175.64 87.63 L176.50 88.02 L177.35 88.40 L178.21 88.79 L179.06 89.17 L179.92 89.55 L180.78 89.93 L181.64 90.31 L182.51 90.69 L183.37 91.07 L184.24 91.44 L185.10 91.82 L185.97 92.19 L186.83 92.56 L187.70 92.93 L188.56 93.30 L189.43 93.66 L190.29 94.03 L191.15 94.39 L192.01 94.74 L192.86 95.10 L193.72 95.45 L194.57 95.80 L195.41 96.15 L196.26 96.50 L197.10 96.84 L197.94 97.18 L198.78 97.52 L199.63 97.87 L200.48 98.21 L201.33 98.55 L202.19 98.89 L203.06 99.23 L203.94 99.58 L204.82 99.93 L205.72 100.28 L206.63 100.64 L207.55 101.00 L208.49 101.36 L209.43 101.73 L210.38 102.09 L211.33 102.46 L212.27 102.82 L213.20 103.17 L214.12 103.52 L215.02 103.86 L215.89 104.18 L216.73 104.50 L217.54 104.79 L218.31 105.07 L219.04 105.33 L219.72 105.57 L220.35 105.79 L220.93 105.99 L221.48 106.17 L222.02 106.34 L222.54 106.51 L223.07 106.68 L223.61 106.85 L224.18 107.03 L224.79 107.23 L225.44 107.44 L226.15 107.68 L226.90 107.93 L227.70 108.20 L228.55 108.48 L229.44 108.78 L230.37 109.08 L231.33 109.40 L232.33 109.73 L233.35 110.06 L234.41 110.40 L235.49 110.74 L236.60 111.08 L237.73 111.43 L238.87 111.77 L240.04 112.11 L241.21 112.45 L242.40 112.78 L243.60 113.11 L244.81 113.43 L246.03 113.75 L247.26 114.07 L248.50 114.39 L249.75 114.70 L251.01 115.01 L252.27 115.32 L253.53 115.62 L254.81 115.93 L256.08 116.23 L257.36 116.53 L258.64 116.83 L259.92 117.13 L261.20 117.42 L262.49 117.72 L263.77 118.02 L265.05 118.31 L266.33 118.61 L267.60 118.90 L268.88 119.20 L270.15 119.49 L271.42 119.78 L272.68 120.08 L273.94 120.37 L275.20 120.66 L276.46 120.95 L277.71 121.24 L278.96 121.53 L280.21 121.81 L281.45 122.10 L282.69 122.38 L283.93 122.66 L285.16 122.94 L286.39 123.22 L287.62 123.49 L288.84 123.76 L290.06 124.04 L291.27 124.30 L292.48 124.57 L293.69 124.83 L294.89 125.09 L296.08 125.35 L297.26 125.60 L298.44 125.85 L299.60 126.10 L300.76 126.35 L301.91 126.59 L303.04 126.83 L304.16 127.07 L305.27 127.30 L306.37 127.53 L307.45 127.75 L308.52 127.97 L309.57 128.19 L310.61 128.40 L311.63 128.61 L312.63 128.82 L313.62 129.02 L314.60 129.22 L315.57 129.42 L316.52 129.61 L317.47 129.80 L318.41 129.99 L319.34 130.18 L320.28 130.36 L321.20 130.55 L322.13 130.73 L323.06 130.92 L323.99 131.10 L324.92 131.28 L325.85 131.47 L326.79 131.65 L327.74 131.84 L328.69 132.02 L329.64 132.21 L330.59 132.39 L331.55 132.58 L332.50 132.77 L333.46 132.96 L334.42 133.16 L335.38 133.35 L336.34 133.55 L337.30 133.75 L338.26 133.96 L339.22 134.16 L340.18 134.37 L341.14 134.58 L342.09 134.80 L343.03 135.01 L343.97 135.23 L344.89 135.44 L345.81 135.66 L346.71 135.87 L347.60 136.09 L348.48 136.30 L349.33 136.51 L350.17 136.72 L350.98 136.92 L351.78 137.12 L352.55 137.31 L353.29 137.51 L354.01 137.70 L354.71 137.89 L355.39 138.08 L356.04 138.29 L356.67 138.50 L357.28 138.72 L357.87 138.96 L358.43 139.22 L358.98 139.49 L359.51 139.78 L360.02 140.10 L360.51 140.43 L360.98 140.79 L361.43 141.15 L361.87 141.54 L362.28 141.94 L362.69 142.35 L363.07 142.77 L363.44 143.20 L363.79 143.64 L364.12 144.09 L364.43 144.54 L364.70 144.99 L364.95 145.45 L365.17 145.91 L365.35 146.37 L365.50 146.82 L365.61 147.27 L365.68 147.71 L365.71 148.15 L365.71 148.59 L365.68 149.02 L365.61 149.45 L365.51 149.87 L365.39 150.29 L365.25 150.71 L365.09 151.13 L364.93 151.55 L364.77 151.99 L364.62 152.44 L364.48 152.90 L364.35 153.38 L364.22 153.86 L364.07 154.35 L363.90 154.83 L363.69 155.32 L363.44 155.79 L363.13 156.26 L362.76 156.71 L362.33 157.15 L361.84 157.58 L361.29 158.00 L360.70 158.42 L360.07 158.83 L359.40 159.25 L358.70 159.68 L357.98 160.11 L357.23 160.55 L356.46 161.00 L355.68 161.47 L354.89 161.96 L354.10 162.46 L353.30 162.98 L352.50 163.50 L351.70 164.03 L350.89 164.56 L350.08 165.09 L349.27 165.62 L348.46 166.13 L347.66 166.64 L346.85 167.14 L346.05 167.61 L345.26 168.07 L344.47 168.50 L343.69 168.91 L342.92 169.29 L342.15 169.65 L341.38 169.98 L340.62 170.30 L339.85 170.60 L339.09 170.89 L338.32 171.16 L337.54 171.43 L336.76 171.70 L335.97 171.96 L335.17 172.22 L334.36 172.48 L333.53 172.75 L332.69 173.03 L331.84 173.31 L330.98 173.60 L330.10 173.89 L329.22 174.18 L328.32 174.48 L327.42 174.79 L326.51 175.09 L325.59 175.40 L324.67 175.71 L323.74 176.02 L322.80 176.33 L321.86 176.65 L320.92 176.96 L319.98 177.27 L319.04 177.58 L318.09 177.89 L317.14 178.20 L316.20 178.51 L315.25 178.81 L314.30 179.12 L313.35 179.42 L312.39 179.73 L311.44 180.03 L310.49 180.33 L309.54 180.63 L308.58 180.93 L307.63 181.23 L306.68 181.52 L305.72 181.82 L304.77 182.11 L303.82 182.40 L302.87 182.69 L301.91 182.98 L300.96 183.27 L300.01 183.55 L299.06 183.84 L298.11 184.12 L297.15 184.41 L296.20 184.69 L295.25 184.97 L294.30 185.25 L293.34 185.53 L292.39 185.81 L291.43 186.09 L290.48 186.37 L289.52 186.65 L288.57 186.92 L287.61 187.20 L286.66 187.48 L285.70 187.75 L284.74 188.02 L283.79 188.29 L282.83 188.56 L281.88 188.82 L280.92 189.08 L279.97 189.34 L279.01 189.60 L278.06 189.85 L277.10 190.10 L276.15 190.34 L275.20 190.58 L274.25 190.82 L273.30 191.05 L272.34 191.29 L271.39 191.52 L270.44 191.75 L269.48 191.99 L268.53 192.22 L267.57 192.46 L266.61 192.70 L265.65 192.94 L264.68 193.19 L263.71 193.44 L262.74 193.70 L261.77 193.96 L260.79 194.23 L259.80 194.51 L258.81 194.79 L257.81 195.08 L256.81 195.38 L255.80 195.67 L254.78 195.98 L253.75 196.28 L252.71 196.59 L251.66 196.90 L250.60 197.22 L249.53 197.53 L248.45 197.85 L247.35 198.17 L246.24 198.48 L245.11 198.80 L243.97 199.12 L242.81 199.44 L241.63 199.75 L240.45 200.07 L239.25 200.39 L238.04 200.70 L236.81 201.01 L235.58 201.33 L234.34 201.64 L233.09 201.95 L231.84 202.27 L230.58 202.58 L229.31 202.89 L228.04 203.20 L226.77 203.51 L225.49 203.82 L224.21 204.13 L222.94 204.44 L221.66 204.75 L220.39 205.06 L219.12 205.37 L217.85 205.67 L216.58 205.98 L215.32 206.29 L214.06 206.60 L212.81 206.91 L211.55 207.21 L210.30 207.52 L209.05 207.83 L207.80 208.14 L206.55 208.45 L205.31 208.76 L204.06 209.07 L202.82 209.38 L201.58 209.69 L200.33 210.00 L199.09 210.31 L197.85 210.63 L196.61 210.94 L195.36 211.26 L194.12 211.57 L192.88 211.89 L191.63 212.21 L190.39 212.53 L189.14 212.84 L187.90 213.16 L186.65 213.48 L185.41 213.80 L184.16 214.12 L182.91 214.44 L181.67 214.76 L180.42 215.07 L179.17 215.39 L177.92 215.71 L176.67 216.02 L175.42 216.34 L174.17 216.65 L172.92 216.96 L171.67 217.27 L170.42 217.57 L169.17 217.88 L167.92 218.18 L166.67 218.48 L165.42 218.78 L164.16 219.08 L162.91 219.37 L161.66 219.66 L160.40 219.95 L159.15 220.24 L157.90 220.53 L156.64 220.81 L155.39 221.10 L154.14 221.38 L152.88 221.66 L151.63 221.94 L150.37 222.21 L149.12 222.49 L147.86 222.76 L146.61 223.03 L145.36 223.30 L144.10 223.57 L142.85 223.84 L141.59 224.10 L140.34 224.37 L139.08 224.63 L137.83 224.89 L136.57 225.15 L135.32 225.41 L134.06 225.66 L132.81 225.92 L131.55 226.17 L130.29 226.42 L129.04 226.67 L127.78 226.91 L126.52 227.15 L125.26 227.40 L124.00 227.64 L122.74 227.87 L121.48 228.11 L120.22 228.34 L118.96 228.57 L117.69 228.80 L116.43 229.03 L115.17 229.25 L113.90 229.47 L112.64 229.69 L111.38 229.91 L110.12 230.13 L108.85 230.34 L107.59 230.55 L106.33 230.76 L105.07 230.97 L103.81 231.18 L102.56 231.39 L101.30 231.59 L100.05 231.79 L98.80 231.99 L97.55 232.19 L96.30 232.39 L95.06 232.59 L93.82 232.79 L92.58 232.98 L91.35 233.18 L90.12 233.37 L88.90 233.56 L87.68 233.75 L86.48 233.93 L85.28 234.12 L84.10 234.30 L82.92 234.48 L81.76 234.66 L80.61 234.84 L79.48 235.01 L78.36 235.19 L77.25 235.36 L76.17 235.52 L75.10 235.69 L74.05 235.85 L73.02 236.00 L72.01 236.16 L71.01 236.31 L70.04 236.46 L69.08 236.61 L68.13 236.75 L67.20 236.90 L66.27 237.04 L65.36 237.18 L64.45 237.32 L63.55 237.45 L62.66 237.59 L61.77 237.73 L60.88 237.86 L60.00 238.00"/>
<path class="ln" stroke="#2ca02c" d="M60.00 178.00 L61.06 178.08 L62.13 178.16 L63.20 178.24 L64.27 178.31 L65.36 178.39 L66.45 178.47 L67.55 178.56 L68.67 178.64 L69.81 178.72 L70.96 178.80 L72.13 178.89 L73.33 178.97 L74.55 179.06 L75.79 179.15 L77.05 179.24 L78.34 179.33 L79.66 179.43 L80.99 179.53 L82.35 179.63 L83.73 179.74 L85.14 179.85 L86.56 179.96 L88.00 180.08 L89.47 180.20 L90.95 180.33 L92.46 180.46 L93.98 180.60 L95.53 180.75 L97.09 180.90 L98.66 181.06 L100.25 181.23 L101.83 181.39 L103.42 181.56 L105.00 181.74 L106.57 181.92 L108.13 182.10 L109.67 182.28 L111.18 182.46 L112.67 182.65 L114.13 182.83 L115.55 183.01 L116.93 183.19 L118.26 183.37 L119.54 183.55 L120.77 183.72 L121.95 183.90 L123.09 184.07 L124.19 184.24 L125.25 184.41 L126.30 184.58 L127.34 184.76 L128.36 184.94 L129.38 185.12 L130.42 185.32 L131.46 185.52 L132.53 185.73 L133.62 185.94 L134.74 186.17 L135.87 186.41 L137.01 186.66 L138.14 186.91 L139.26 187.17 L140.36 187.44 L141.43 187.71 L142.45 187.98 L143.43 188.26 L144.34 188.54 L145.19 188.83 L145.96 189.11 L146.66 189.39 L147.30 189.68 L147.90 189.96 L148.47 190.25 L149.03 190.52 L149.59 190.80 L150.16 191.07 L150.75 191.34 L151.36 191.62 L151.99 191.90 L152.64 192.20 L153.29 192.52 L153.95 192.87 L154.61 193.26 L155.28 193.68 L155.94 194.15 L156.60 194.66 L157.25 195.20 L157.90 195.78 L158.55 196.37 L159.18 196.99 L159.81 197.63 L160.43 198.28 L161.04 198.93 L161.64 199.60 L162.22 200.27 L162.79 200.95 L163.34 201.64 L163.87 202.36 L164.37 203.10 L164.85 203.87 L165.30 204.67 L165.71 205.50 L166.09 206.38 L166.44 207.30 L166.75 208.26 L167.02 209.25 L167.27 210.28 L167.50 211.33 L167.70 212.41 L167.88 213.50 L168.05 214.60 L168.20 215.71 L168.35 216.82 L168.48 217.93 L168.62 219.03 L168.75 220.12 L168.87 221.21 L169.00 222.28 L169.12 223.35 L169.24 224.41 L169.36 225.47 L169.47 226.52 L169.57 227.57 L169.67 228.62 L169.76 229.67 L169.85 230.71 L169.93 231.76 L170.00 232.82 L170.06 233.87 L170.12 234.93 L170.18 235.99 L170.24 237.05 L170.29 238.11 L170.34 239.18 L170.39 240.25 L170.45 241.32 L170.51 242.39 L170.57 243.47 L170.64 244.54 L170.72 245.62 L170.80 246.70 L170.88 247.77 L170.98 248.84 L171.08 249.91 L171.18 250.98 L171.29 252.03 L171.40 253.08 L171.53 254.12 L171.65 255.15 L171.78 256.17 L171.92 257.18 L172.06 258.17 L172.21 259.16 L172.37 260.12 L172.53 261.08 L172.70 262.02 L172.87 262.95 L173.06 263.87 L173.25 264.78 L173.45 265.67 L173.66 266.55 L173.88 267.42 L174.10 268.28 L174.32 269.12 L174.53 269.95 L174.73 270.77 L174.91 271.56 L175.07 272.35 L175.21 273.11 L175.31 273.86 L175.37 274.59 L175.40 275.31 L175.39 276.03 L175.35 276.75 L175.27 277.49 L175.16 278.24 L175.01 279.02 L174.84 279.83 L174.63 280.68 L174.40 281.56 L174.15 282.46 L173.88 283.37 L173.60 284.26 L173.32 285.13 L173.04 285.97 L172.76 286.75 L172.50 287.47 L172.26 288.11 L172.04 288.67 L171.85 289.18 L171.69 289.66 L171.58 290.13 L171.51 290.64 L171.50 291.19 L171.54 291.82 L171.64 292.49 L171.78 293.20 L171.97 293.93 L172.21 294.67 L172.48 295.40 L172.80 296.10 L173.14 296.76 L173.53 297.37 L173.94 297.95 L174.41 298.48 L174.91 299.00 L175.47 299.49 L176.07 299.96 L176.74 300.43 L177.46 300.90 L178.24 301.37 L179.09 301.85 L179.98 302.33 L180.91 302.82 L181.89 303.31 L182.90 303.80 L183.95 304.30 L185.01 304.80 L186.10 305.30 L187.20 305.80 L188.30 306.30 L189.41 306.80 L190.52 307.31 L191.62 307.81 L192.72 308.32 L193.82 308.82 L194.92 309.33 L196.02 309.84 L197.12 310.34 L198.21 310.84 L199.30 311.35 L200.40 311.85 L201.49 312.35 L202.58 312.85 L203.67 313.35 L204.76 313.85 L205.86 314.34 L206.95 314.84 L208.04 315.33 L209.14 315.83 L210.24 316.33 L211.33 316.82 L212.43 317.32 L213.54 317.82 L214.64 318.33 L215.75 318.84 L216.86 319.35 L217.98 319.86 L219.09 320.38 L220.21 320.91 L221.34 321.44 L222.46 321.97 L223.58 322.50 L224.70 323.03 L225.81 323.56 L226.92 324.10 L228.02 324.62 L229.11 325.15 L230.19 325.66 L231.26 326.18 L232.31 326.68 L233.35 327.18 L234.37 327.66 L235.38 328.14 L236.37 328.62 L237.34 329.08 L238.31 329.55 L239.27 330.02 L240.21 330.48 L241.15 330.95 L242.08 331.42 L243.00 331.90 L243.93 332.38 L244.85 332.88 L245.76 333.38 L246.67 333.90 L247.58 334.42 L248.48 334.96 L249.37 335.50 L250.25 336.05 L251.11 336.61 L251.96 337.18 L252.79 337.75 L253.60 338.33 L254.38 338.91 L255.15 339.50 L255.88 340.10 L256.58 340.69 L257.24 341.29 L257.85 341.90 L258.40 342.50 L258.90 343.10 L259.34 343.70 L259.70 344.30 L259.98 344.90 L260.19 345.50 L260.34 346.09 L260.41 346.69 L260.43 347.29 L260.39 347.89 L260.30 348.50 L260.17 349.12 L259.98 349.75 L259.75 350.37 L259.46 350.99 L259.10 351.60 L258.69 352.20 L258.20 352.78 L257.65 353.34 L257.02 353.88 L256.33 354.41 L255.59 354.92 L254.81 355.42 L254.01 355.92 L253.18 356.43 L252.34 356.95 L251.50 357.48 L250.67 358.02 L249.87 358.60 L249.09 359.20 L248.34 359.82 L247.62 360.46 L246.93 361.13 L246.28 361.80 L245.65 362.49 L245.07 363.19 L244.51 363.89 L243.99 364.59 L243.51 365.29 L243.06 365.98 L242.65 366.67 L242.28 367.34 L241.95 368.01 L241.65 368.66 L241.40 369.29 L241.18 369.91 L241.00 370.50 L240.86 371.08 L240.75 371.64 L240.68 372.19 L240.63 372.74 L240.61 373.30 L240.60 373.87 L240.61 374.46 L240.63 375.07 L240.67 375.70 L240.74 376.36 L240.82 377.04 L240.94 377.75 L241.08 378.49 L241.26 379.25 L241.47 380.03 L241.72 380.84 L242.00 381.67 L242.31 382.50 L242.66 383.35 L243.04 384.21 L243.45 385.06 L243.90 385.91 L244.38 386.76 L244.88 387.59 L245.42 388.41 L245.98 389.22 L246.58 390.02 L247.20 390.81 L247.84 391.59 L248.50 392.36 L249.19 393.13 L249.89 393.90 L250.61 394.66 L251.34 395.43 L252.09 396.19 L252.85 396.96 L253.63 397.73 L254.41 398.50 L255.21 399.28 L256.02 400.05 L256.84 400.82 L257.68 401.60 L258.52 402.37 L259.37 403.14 L260.24 403.91 L261.11 404.68 L262.00 405.44 L262.89 406.20 L263.80 406.96 L264.71 407.72 L265.63 408.47 L266.55 409.21 L267.47 409.96 L268.39 410.70 L269.31 411.43 L270.22 412.16 L271.13 412.89 L272.03 413.61 L272.92 414.32 L273.80 415.04 L274.67 415.74 L275.52 416.45 L276.36 417.14 L277.19 417.84 L278.01 418.53 L278.83 419.21 L279.63 419.90 L280.43 420.58 L281.23 421.26 L282.02 421.94 L282.81 422.62 L283.60 423.30"/>
<path class="ld" stroke="#2ca02c" stroke-dashoffset="1.7" d="M60.00 163.00 L60.97 163.05 L61.93 163.10 L62.91 163.15 L63.88 163.21 L64.86 163.26 L65.85 163.32 L66.85 163.38 L67.86 163.45 L68.88 163.52 L69.91 163.59 L70.96 163.67 L72.02 163.76 L73.10 163.85 L74.20 163.95 L75.32 164.05 L76.46 164.16 L77.62 164.28 L78.80 164.40 L80.00 164.53 L81.22 164.67 L82.45 164.82 L83.70 164.97 L84.97 165.12 L86.26 165.29 L87.56 165.46 L88.88 165.63 L90.22 165.82 L91.57 166.01 L92.94 166.20 L94.33 166.40 L95.73 166.61 L97.15 166.82 L98.57 167.04 L100.00 167.26 L101.44 167.48 L102.88 167.71 L104.32 167.94 L105.75 168.17 L107.17 168.40 L108.59 168.64 L109.99 168.87 L111.37 169.10 L112.73 169.32 L114.07 169.55 L115.39 169.77 L116.67 169.99 L117.92 170.20 L119.14 170.40 L120.32 170.60 L121.45 170.80 L122.55 170.98 L123.61 171.16 L124.63 171.33 L125.62 171.50 L126.58 171.67 L127.51 171.83 L128.41 171.98 L129.29 172.14 L130.14 172.29 L130.96 172.44 L131.77 172.58 L132.56 172.73 L133.33 172.87 L134.09 173.02 L134.84 173.17 L135.59 173.32 L136.34 173.47 L137.09 173.63 L137.84 173.80 L138.61 173.97 L139.39 174.16 L140.19 174.35 L141.02 174.55 L141.86 174.77 L142.72 175.00 L143.59 175.24 L144.47 175.49 L145.35 175.75 L146.22 176.02 L147.09 176.31 L147.94 176.60 L148.78 176.91 L149.60 177.22 L150.38 177.55 L151.14 177.89 L151.87 178.24 L152.57 178.60 L153.25 178.98 L153.91 179.38 L154.55 179.79 L155.18 180.23 L155.80 180.69 L156.42 181.17 L157.03 181.68 L157.64 182.21 L158.25 182.78 L158.86 183.36 L159.47 183.98 L160.06 184.62 L160.65 185.28 L161.23 185.97 L161.79 186.68 L162.33 187.40 L162.85 188.15 L163.35 188.92 L163.83 189.70 L164.27 190.50 L164.69 191.31 L165.08 192.14 L165.45 192.98 L165.79 193.84 L166.12 194.71 L166.43 195.59 L166.72 196.48 L167.00 197.39 L167.27 198.30 L167.53 199.23 L167.78 200.16 L168.03 201.11 L168.27 202.06 L168.52 203.02 L168.75 203.99 L168.99 204.96 L169.22 205.94 L169.44 206.93 L169.66 207.92 L169.88 208.92 L170.08 209.92 L170.28 210.93 L170.47 211.94 L170.65 212.95 L170.83 213.97 L170.99 214.99 L171.15 216.01 L171.30 217.03 L171.43 218.06 L171.56 219.09 L171.68 220.12 L171.79 221.16 L171.90 222.20 L172.00 223.25 L172.09 224.30 L172.17 225.35 L172.24 226.41 L172.31 227.47 L172.37 228.54 L172.43 229.61 L172.48 230.69 L172.53 231.77 L172.57 232.86 L172.60 233.94 L172.64 235.01 L172.67 236.09 L172.69 237.15 L172.71 238.20 L172.73 239.25 L172.75 240.28 L172.77 241.29 L172.78 242.29 L172.79 243.27 L172.81 244.23 L172.82 245.16 L172.83 246.08 L172.85 246.99 L172.87 247.89 L172.88 248.79 L172.91 249.68 L172.93 250.58 L172.96 251.49 L172.99 252.40 L173.02 253.34 L173.07 254.28 L173.11 255.26 L173.17 256.25 L173.22 257.27 L173.29 258.30 L173.35 259.34 L173.42 260.39 L173.49 261.44 L173.56 262.49 L173.63 263.53 L173.71 264.56 L173.78 265.58 L173.85 266.57 L173.91 267.55 L173.98 268.49 L174.04 269.41 L174.10 270.29 L174.15 271.14 L174.20 271.96 L174.25 272.77 L174.29 273.55 L174.34 274.32 L174.38 275.08 L174.42 275.82 L174.46 276.56 L174.50 277.30"/>
<path class="ln" stroke="#d62728" d="M291.20 54.20 L292.20 54.49 L293.21 54.79 L294.22 55.08 L295.23 55.38 L296.24 55.67 L297.25 55.97 L298.27 56.27 L299.30 56.58 L300.33 56.88 L301.37 57.19 L302.42 57.50 L303.47 57.82 L304.53 58.14 L305.60 58.46 L306.67 58.78 L307.75 59.11 L308.83 59.43 L309.92 59.75 L311.00 60.07 L312.09 60.39 L313.17 60.71 L314.26 61.02 L315.34 61.32 L316.42 61.63 L317.50 61.92 L318.58 62.21 L319.66 62.50 L320.74 62.79 L321.81 63.07 L322.89 63.35 L323.97 63.63 L325.06 63.91 L326.15 64.18 L327.24 64.46 L328.33 64.73 L329.43 65.01 L330.53 65.29 L331.62 65.57 L332.72 65.86 L333.81 66.16 L334.90 66.46 L335.97 66.76 L337.04 67.08 L338.10 67.41 L339.14 67.74 L340.17 68.10 L341.19 68.46 L342.18 68.83 L343.17 69.22 L344.13 69.62 L345.08 70.02 L346.01 70.44 L346.92 70.86 L347.81 71.29 L348.69 71.73 L349.55 72.17 L350.39 72.62 L351.22 73.07 L352.02 73.53 L352.82 74.00 L353.60 74.49 L354.37 74.99 L355.13 75.52 L355.88 76.07 L356.62 76.65 L357.36 77.25 L358.10 77.89 L358.82 78.55 L359.53 79.22 L360.23 79.91 L360.90 80.59 L361.56 81.27 L362.18 81.94 L362.77 82.58 L363.33 83.20 L363.85 83.78 L364.33 84.32 L364.80 84.83 L365.27 85.31 L365.76 85.76 L366.28 86.19 L366.85 86.61 L367.49 87.01 L368.20 87.41 L368.98 87.79 L369.83 88.17 L370.72 88.55 L371.66 88.91 L372.65 89.28 L373.66 89.63 L374.69 89.99 L375.74 90.35 L376.80 90.70 L375.70 91.02 L374.60 91.35 L373.51 91.67 L372.44 91.99 L371.38 92.30 L370.34 92.62 L369.32 92.93 L368.33 93.24 L367.37 93.54 L366.45 93.84 L365.57 94.14 L364.73 94.42 L363.94 94.71 L363.20 95.00 L362.51 95.30 L361.86 95.63 L361.27 95.99 L360.73 96.40 L360.25 96.86 L359.81 97.38 L359.44 97.97 L359.11 98.64 L358.83 99.36 L358.59 100.13 L358.39 100.95 L358.22 101.81 L358.07 102.69 L357.95 103.60 L357.84 104.52 L357.74 105.45 L357.66 106.39 L357.58 107.32 L357.52 108.26 L357.46 109.20 L357.41 110.14 L357.37 111.08 L357.34 112.03 L357.32 112.97 L357.31 113.91 L357.30 114.86 L357.30 115.80 L357.31 116.74 L357.32 117.68 L357.34 118.61 L357.36 119.56 L357.37 120.50 L357.39 121.44 L357.40 122.39 L357.41 123.34 L357.41 124.30 L357.40 125.26 L357.38 126.22 L357.35 127.19 L357.32 128.15 L357.28 129.12 L357.23 130.07 L357.19 131.02 L357.14 131.96 L357.10 132.88 L357.05 133.79 L357.01 134.67 L356.98 135.54 L356.95 136.39 L356.92 137.22 L356.89 138.03 L356.86 138.84 L356.82 139.64 L356.78 140.45 L356.72 141.25 L356.65 142.07 L356.57 142.89 L356.47 143.73 L356.36 144.58 L356.23 145.44 L356.10 146.31 L355.95 147.19 L355.80 148.07 L355.64 148.97 L355.48 149.87 L355.31 150.77 L355.15 151.68 L354.98 152.60 L354.82 153.51 L354.65 154.41 L354.49 155.31 L354.32 156.20 L354.15 157.08 L353.98 157.94 L353.81 158.78 L353.63 159.60 L353.46 160.39 L353.27 161.16 L353.09 161.91 L352.89 162.64 L352.70 163.38 L352.50 164.12 L352.29 164.87 L352.07 165.64 L351.85 166.44 L351.62 167.28 L351.39 168.15 L351.15 169.07 L350.90 170.03 L350.65 171.02 L350.40 172.04 L350.14 173.10 L349.88 174.19 L349.62 175.30 L349.36 176.45 L349.10 177.62 L348.85 178.82 L348.59 180.04 L348.34 181.28 L348.09 182.54 L347.85 183.82 L347.60 185.10 L347.35 186.40 L347.11 187.70 L346.86 189.01 L346.61 190.31 L346.36 191.62 L346.10 192.92 L345.84 194.21 L345.57 195.49 L345.29 196.75 L345.01 198.00 L344.72 199.23 L344.42 200.43 L344.11 201.62 L343.80 202.78 L343.47 203.93 L343.14 205.07 L342.80 206.19 L342.45 207.30 L342.10 208.40 L341.74 209.50 L341.37 210.59 L340.99 211.67 L340.61 212.76 L340.22 213.84 L339.83 214.93 L339.43 216.02 L339.02 217.11 L338.61 218.20 L338.19 219.30 L337.76 220.40 L337.33 221.51 L336.89 222.62 L336.44 223.74 L335.98 224.86 L335.52 225.99 L335.05 227.12 L334.57 228.27 L334.08 229.41 L333.59 230.57 L333.08 231.73 L332.58 232.90 L332.06 234.08 L331.55 235.26 L331.03 236.45 L330.51 237.64 L330.00 238.83 L329.48 240.03 L328.97 241.24 L328.47 242.45 L327.97 243.66 L327.47 244.87 L326.98 246.09 L326.51 247.30 L326.04 248.52 L325.58 249.74 L325.13 250.96 L324.68 252.18 L324.24 253.40 L323.81 254.61 L323.38 255.82 L322.96 257.03 L322.54 258.24 L322.12 259.44 L321.71 260.63 L321.29 261.82 L320.88 263.00 L320.47 264.18 L320.05 265.34 L319.64 266.50 L319.23 267.65 L318.82 268.79 L318.41 269.92 L318.00 271.05 L317.60 272.17 L317.20 273.27 L316.80 274.37 L316.40 275.47 L316.01 276.55 L315.62 277.62 L315.24 278.69 L314.86 279.74 L314.49 280.79 L314.13 281.82 L313.77 282.84 L313.42 283.85 L313.09 284.83 L312.76 285.80 L312.44 286.74 L312.14 287.67 L311.85 288.56 L311.58 289.43 L311.32 290.27 L311.07 291.09 L310.84 291.88 L310.62 292.66 L310.42 293.43 L310.23 294.20 L310.05 294.97 L309.89 295.76 L309.73 296.56 L309.58 297.39 L309.45 298.25 L309.32 299.14 L309.20 300.05 L309.09 300.99 L308.98 301.94 L308.88 302.91 L308.79 303.89 L308.71 304.89 L308.63 305.88 L308.55 306.88 L308.48 307.89 L308.41 308.89 L308.35 309.89 L308.29 310.89 L308.23 311.89 L308.17 312.90 L308.11 313.91 L308.06 314.93 L308.00 315.96 L307.94 317.00 L307.88 318.04 L307.82 319.10 L307.75 320.18 L307.68 321.26 L307.61 322.35 L307.54 323.45 L307.46 324.54 L307.38 325.63 L307.29 326.70 L307.20 327.76 L307.11 328.81 L307.02 329.83 L306.92 330.82 L306.82 331.78 L306.72 332.71 L306.62 333.60 L306.51 334.47 L306.39 335.32 L306.26 336.15 L306.13 336.98 L305.99 337.80 L305.84 338.63 L305.67 339.47 L305.50 340.32 L305.30 341.19 L305.10 342.08 L304.88 342.97 L304.65 343.88 L304.40 344.79 L304.15 345.69 L303.88 346.59 L303.60 347.47 L303.31 348.34 L303.02 349.19 L302.71 350.01 L302.39 350.80 L302.07 351.58 L301.74 352.34 L301.40 353.09 L301.07 353.83 L300.73 354.58 L300.40 355.33 L300.06 356.09 L299.73 356.86 L299.41 357.65 L299.08 358.46 L298.77 359.28 L298.45 360.11 L298.14 360.95 L297.83 361.78 L297.53 362.62 L297.22 363.46 L296.92 364.29 L296.63 365.11 L296.33 365.91 L296.04 366.71 L295.75 367.50 L295.47 368.28 L295.19 369.05 L294.93 369.82 L294.67 370.58 L294.43 371.33 L294.21 372.08 L294.00 372.82 L293.80 373.56 L293.61 374.31 L293.43 375.06 L293.26 375.82 L293.09 376.59 L292.93 377.38 L292.76 378.18 L292.60 379.02 L292.43 379.87 L292.25 380.75 L292.07 381.65 L291.89 382.56 L291.71 383.49 L291.53 384.43 L291.35 385.37 L291.17 386.32 L290.99 387.28 L290.81 388.23 L290.63 389.17 L290.46 390.11 L290.29 391.04 L290.12 391.98 L289.96 392.91 L289.80 393.84 L289.65 394.78 L289.49 395.72 L289.35 396.67 L289.20 397.62 L289.06 398.59 L288.92 399.57 L288.78 400.56 L288.65 401.56 L288.52 402.58 L288.39 403.60 L288.26 404.63 L288.12 405.66 L287.99 406.70 L287.85 407.74 L287.71 408.78 L287.57 409.83 L287.42 410.87 L287.26 411.92 L287.10 412.96 L286.94 414.00 L286.77 415.03 L286.59 416.07 L286.41 417.11 L286.23 418.14 L286.05 419.17 L285.86 420.20 L285.68 421.24 L285.49 422.27 L285.30 423.30"/>
<path class="ld" stroke="#d62728" stroke-dashoffset="0" d="M364.60 54.20 L364.58 55.58 L364.57 56.96 L364.55 58.33 L364.53 59.69 L364.52 61.04 L364.50 62.37 L364.48 63.67 L364.47 64.95 L364.45 66.20 L364.43 67.42 L364.42 68.59 L364.40 69.73 L364.39 70.83 L364.37 71.88 L364.36 72.91 L364.34 73.91 L364.32 74.91 L364.30 75.90 L364.28 76.90 L364.26 77.91 L364.23 78.95 L364.20 80.02 L364.16 81.13 L364.13 82.29 L364.08 83.47 L364.04 84.69 L363.99 85.93 L363.93 87.20 L363.87 88.49 L363.81 89.80 L363.73 91.12 L363.66 92.45 L363.58 93.78 L363.49 95.12 L363.40 96.45 L363.30 97.78 L363.20 99.10 L363.10 100.41 L363.00 101.71 L362.89 102.99 L362.78 104.25 L362.68 105.49 L362.58 106.70 L362.48 107.89 L362.38 109.04 L362.29 110.16 L362.20 111.24 L362.12 112.29 L362.04 113.32 L361.97 114.33 L361.89 115.33 L361.83 116.33 L361.76 117.33 L361.70 118.34 L361.64 119.37 L361.58 120.41 L361.52 121.48 L361.46 122.58 L361.40 123.69 L361.35 124.81 L361.30 125.95 L361.25 127.09 L361.21 128.24 L361.17 129.39 L361.14 130.54 L361.11 131.68 L361.08 132.82 L361.06 133.94 L361.05 135.05 L361.03 136.13 L361.00 137.20 L360.97 138.24 L360.93 139.26 L360.87 140.24 L360.80 141.19 L360.71 142.10 L360.60 142.96 L360.47 143.80 L360.33 144.60 L360.18 145.37 L360.02 146.12 L359.86 146.85 L359.69 147.57 L359.54 148.28 L359.39 148.99 L359.24 149.69 L359.10 150.38 L358.95 151.06 L358.80 151.72 L358.64 152.37 L358.46 152.99 L358.28 153.60 L358.09 154.20 L357.89 154.81 L357.68 155.43 L357.48 156.07 L357.26 156.73 L357.05 157.42 L356.85 158.13 L356.64 158.86 L356.44 159.60 L356.25 160.34 L356.08 161.08 L355.91 161.81 L355.75 162.53 L355.60 163.25 L355.44 163.96 L355.28 164.67 L355.10 165.38 L354.89 166.10 L354.66 166.82 L354.41 167.54 L354.13 168.28 L353.82 169.02 L353.51 169.76 L353.18 170.50 L352.84 171.25 L352.50 172.00"/>
<path class="ln" stroke="#9467bd" d="M387.00 53.50 L387.31 53.73 L387.63 53.95 L387.95 54.18 L388.27 54.40 L388.61 54.62 L388.95 54.85 L389.31 55.07 L389.68 55.29 L390.07 55.51 L390.48 55.73 L390.90 55.95 L391.32 56.16 L391.76 56.38 L392.20 56.60 L392.64 56.82 L393.09 57.04 L393.53 57.26 L393.96 57.48 L394.39 57.71 L394.81 57.94 L395.22 58.17 L395.63 58.41 L396.03 58.65 L396.43 58.90 L396.82 59.15 L397.20 59.42 L397.58 59.69 L397.96 59.97 L398.33 60.26 L398.69 60.55 L399.05 60.85 L399.40 61.16 L399.75 61.48 L400.09 61.80 L400.43 62.13 L400.77 62.46 L401.10 62.80 L401.42 63.14 L401.75 63.49 L402.06 63.84 L402.38 64.19 L402.69 64.54 L402.99 64.90 L403.29 65.26 L403.58 65.62 L403.87 65.99 L404.15 66.35 L404.43 66.72 L404.70 67.08 L404.96 67.45 L405.22 67.83 L405.48 68.20 L405.74 68.58 L405.98 68.96 L406.23 69.35 L406.47 69.74 L406.71 70.13 L406.94 70.52 L407.17 70.92 L407.39 71.32 L407.61 71.72 L407.82 72.12 L408.02 72.52 L408.21 72.92 L408.40 73.33 L408.57 73.73 L408.74 74.13 L408.90 74.53 L409.06 74.93 L409.21 75.34 L409.36 75.74 L409.51 76.15 L409.66 76.56 L409.80 76.97 L409.95 77.39 L410.09 77.80 L410.23 78.22 L410.37 78.64 L410.50 79.05 L410.63 79.46 L410.76 79.87 L410.88 80.28 L411.00 80.68 L411.12 81.08 L411.23 81.48 L411.34 81.87 L411.44 82.26 L411.55 82.65 L411.65 83.03 L411.76 83.41 L411.86 83.78 L411.97 84.16 L412.08 84.53 L412.19 84.90 L412.31 85.27 L412.44 85.64 L412.57 86.01 L412.71 86.39 L412.85 86.76 L413.01 87.13 L413.18 87.50 L413.35 87.86 L413.54 88.22 L413.74 88.57 L413.95 88.92 L414.17 89.25 L414.40 89.57 L414.64 89.88 L414.90 90.19 L415.17 90.49 L415.44 90.78 L415.73 91.06 L416.03 91.34 L416.34 91.61 L416.66 91.88 L416.99 92.15 L417.33 92.41 L417.67 92.67 L418.02 92.92 L418.37 93.17 L418.73 93.42 L419.09 93.66 L419.46 93.90 L419.82 94.14 L420.18 94.37 L420.54 94.61 L420.90 94.86 L421.24 95.10 L421.58 95.36 L421.91 95.62 L422.22 95.90 L422.52 96.18 L422.81 96.48 L423.09 96.79 L423.36 97.12 L423.62 97.46 L423.87 97.82 L424.11 98.19 L424.35 98.58 L424.58 98.99 L424.81 99.42 L425.03 99.85 L425.24 100.30 L425.45 100.76 L425.66 101.22 L425.87 101.68 L426.07 102.14 L426.27 102.60 L426.47 103.06 L426.66 103.50 L426.86 103.95 L427.05 104.38 L427.23 104.82 L427.41 105.25 L427.59 105.68 L427.76 106.11 L427.93 106.54 L428.09 106.97 L428.24 107.41 L428.39 107.85 L428.53 108.30 L428.67 108.75 L428.80 109.22 L428.93 109.69 L429.05 110.18 L429.17 110.68 L429.29 111.20 L429.41 111.74 L429.53 112.30 L429.64 112.87 L429.75 113.46 L429.87 114.07 L429.98 114.69 L430.09 115.33 L430.20 115.98 L430.30 116.64 L430.41 117.31 L430.51 117.99 L430.61 118.68 L430.71 119.38 L430.81 120.08 L430.91 120.79 L431.00 121.51 L431.09 122.23 L431.18 122.96 L431.27 123.70 L431.35 124.45 L431.43 125.21 L431.51 125.99 L431.59 126.77 L431.66 127.57 L431.73 128.38 L431.79 129.21 L431.86 130.05 L431.91 130.91 L431.97 131.78 L432.02 132.67 L432.07 133.59 L432.11 134.51 L432.15 135.45 L432.19 136.40 L432.23 137.36 L432.26 138.33 L432.29 139.29 L432.32 140.27 L432.34 141.24 L432.36 142.20 L432.38 143.17 L432.40 144.12 L432.42 145.07 L432.44 146.00 L432.45 146.92 L432.47 147.82 L432.48 148.71 L432.50 149.57 L432.51 150.41 L432.52 151.23 L432.54 152.04 L432.55 152.84 L432.56 153.64 L432.57 154.44 L432.58 155.25 L432.60 156.07 L432.61 156.92 L432.62 157.79 L432.63 158.69 L432.64 159.64 L432.65 160.62 L432.66 161.66 L432.66 162.75 L432.67 163.90 L432.68 165.12 L432.69 166.41 L432.69 167.78 L432.70 169.24 L432.71 170.78 L432.71 172.41 L432.72 174.12 L432.72 175.91 L432.73 177.78 L432.73 179.72 L432.73 181.73 L432.74 183.80 L432.74 185.94 L432.74 188.14 L432.74 190.40 L432.74 192.72 L432.74 195.09 L432.74 197.50 L432.75 199.96 L432.75 202.47 L432.75 205.01 L432.75 207.59 L432.74 210.20 L432.74 212.84 L432.74 215.52 L432.74 218.21 L432.74 220.93 L432.74 223.66 L432.74 226.41 L432.74 229.17 L432.73 231.94 L432.73 234.72 L432.73 237.50 L432.73 240.28 L432.73 243.05 L432.72 245.82 L432.72 248.58 L432.72 251.33 L432.72 254.06 L432.72 256.77 L432.71 259.47 L432.71 262.13 L432.71 264.77 L432.71 267.38 L432.71 269.95 L432.71 272.49 L432.70 274.99 L432.70 277.44 L432.70 279.85 L432.70 282.21 L432.70 284.52 L432.70 286.77 L432.70 288.96 L432.70 291.09 L432.70 293.17 L432.70 295.19 L432.70 297.16 L432.70 299.08 L432.70 300.95 L432.70 302.77 L432.70 304.55 L432.71 306.28 L432.71 307.97 L432.71 309.63 L432.71 311.25 L432.71 312.83 L432.71 314.38 L432.71 315.90 L432.71 317.40 L432.71 318.87 L432.71 320.31 L432.71 321.73 L432.71 323.13 L432.71 324.51 L432.71 325.88 L432.71 327.23 L432.71 328.58 L432.71 329.91 L432.71 331.23 L432.71 332.55 L432.71 333.87 L432.71 335.18 L432.70 336.50 L432.70 337.82 L432.70 339.14 L432.69 340.47 L432.69 341.80 L432.68 343.14 L432.68 344.48 L432.67 345.82 L432.67 347.17 L432.66 348.52 L432.66 349.88 L432.65 351.24 L432.64 352.60 L432.63 353.96 L432.63 355.33 L432.62 356.70 L432.61 358.07 L432.60 359.44 L432.59 360.82 L432.59 362.19 L432.58 363.57 L432.57 364.94 L432.56 366.32 L432.55 367.70 L432.54 369.08 L432.53 370.45 L432.52 371.83 L432.51 373.21 L432.50 374.58 L432.49 375.96 L432.48 377.33 L432.47 378.70 L432.46 380.06 L432.45 381.43 L432.44 382.78 L432.43 384.13 L432.42 385.48 L432.41 386.81 L432.39 388.14 L432.38 389.46 L432.36 390.76 L432.34 392.06 L432.33 393.34 L432.31 394.61 L432.29 395.86 L432.26 397.11 L432.24 398.33 L432.21 399.54 L432.19 400.73 L432.16 401.90 L432.13 403.05 L432.09 404.19 L432.06 405.30 L432.02 406.39 L431.98 407.46 L431.94 408.50 L431.90 409.52 L431.85 410.53 L431.80 411.51 L431.75 412.48 L431.70 413.43 L431.65 414.36 L431.59 415.28 L431.54 416.19 L431.48 417.09 L431.42 417.97 L431.36 418.85 L431.30 419.72 L431.24 420.58 L431.18 421.44 L431.12 422.30 L431.06 423.15 L431.00 424.00"/>
<path class="ld" stroke="#9467bd" stroke-dashoffset="0" d="M429.70 54.20 L429.72 54.93 L429.75 55.66 L429.77 56.40 L429.80 57.13 L429.82 57.88 L429.85 58.62 L429.88 59.38 L429.90 60.14 L429.93 60.91 L429.96 61.68 L429.99 62.47 L430.03 63.28 L430.06 64.09 L430.10 64.92 L430.13 65.76 L430.17 66.62 L430.21 67.49 L430.25 68.37 L430.30 69.26 L430.34 70.17 L430.38 71.07 L430.43 71.99 L430.47 72.91 L430.52 73.83 L430.56 74.75 L430.61 75.68 L430.65 76.60 L430.69 77.52 L430.73 78.44 L430.77 79.35 L430.81 80.26 L430.85 81.17 L430.88 82.06 L430.92 82.95 L430.95 83.84 L430.98 84.73 L431.01 85.62 L431.04 86.51 L431.07 87.39 L431.10 88.29 L431.13 89.18 L431.16 90.08 L431.18 90.99 L431.21 91.90 L431.24 92.82 L431.26 93.75 L431.29 94.70 L431.32 95.65 L431.35 96.62 L431.37 97.59 L431.40 98.57 L431.43 99.56 L431.46 100.55 L431.48 101.55 L431.51 102.55 L431.54 103.54 L431.57 104.54 L431.60 105.53 L431.62 106.51 L431.65 107.49 L431.68 108.46 L431.71 109.42 L431.74 110.36 L431.77 111.29 L431.79 112.21 L431.82 113.11 L431.85 114.00 L431.88 114.86 L431.91 115.72 L431.93 116.56 L431.96 117.40 L431.99 118.22 L432.01 119.04 L432.04 119.85 L432.07 120.65 L432.09 121.45 L432.12 122.25 L432.14 123.05 L432.17 123.85 L432.19 124.65 L432.21 125.46 L432.24 126.27 L432.26 127.09 L432.28 127.91 L432.30 128.74 L432.32 129.59 L432.34 130.45 L432.36 131.31 L432.37 132.20 L432.39 133.10 L432.41 134.02 L432.42 134.95 L432.44 135.91 L432.46 136.88 L432.47 137.89 L432.49 138.91 L432.50 139.96 L432.51 141.04 L432.53 142.14 L432.54 143.26 L432.55 144.41 L432.56 145.58 L432.57 146.77 L432.59 147.98 L432.60 149.21 L432.61 150.45 L432.62 151.71 L432.62 152.99 L432.63 154.27 L432.64 155.57 L432.65 156.87 L432.66 158.18 L432.66 159.50 L432.67 160.83 L432.68 162.16 L432.68 163.49 L432.69 164.83 L432.69 166.16 L432.70 167.50 L432.70 168.83 L432.70 170.16 L432.71 171.48 L432.71 172.80 L432.71 174.12 L432.71 175.43 L432.71 176.75 L432.71 178.05 L432.72 179.36 L432.72 180.66 L432.72 181.96 L432.72 183.26 L432.72 184.56 L432.72 185.85 L432.71 187.14 L432.71 188.43 L432.71 189.72 L432.71 191.01 L432.71 192.30 L432.71 193.58 L432.71 194.87 L432.71 196.15 L432.70 197.43 L432.70 198.72 L432.70 200.00"/>
<path class="ln" stroke="#8c564b" d="M60.00 171.50 L60.92 171.57 L61.84 171.65 L62.77 171.72 L63.70 171.80 L64.64 171.88 L65.58 171.96 L66.53 172.04 L67.50 172.12 L68.48 172.21 L69.47 172.30 L70.47 172.39 L71.50 172.49 L72.54 172.59 L73.60 172.69 L74.68 172.80 L75.79 172.91 L76.91 173.03 L78.05 173.15 L79.21 173.27 L80.39 173.40 L81.58 173.53 L82.79 173.66 L84.01 173.79 L85.24 173.93 L86.48 174.07 L87.74 174.21 L89.00 174.35 L90.27 174.49 L91.55 174.63 L92.83 174.77 L94.12 174.90 L95.41 175.04 L96.70 175.18 L98.00 175.32 L99.30 175.45 L100.60 175.59 L101.90 175.72 L103.21 175.86 L104.52 175.99 L105.83 176.12 L107.14 176.25 L108.45 176.38 L109.77 176.51 L111.08 176.64 L112.40 176.77 L113.71 176.90 L115.03 177.03 L116.35 177.16 L117.66 177.28 L118.98 177.41 L120.30 177.54 L121.62 177.66 L122.93 177.79 L124.25 177.92 L125.56 178.04 L126.88 178.17 L128.19 178.29 L129.51 178.42 L130.82 178.54 L132.13 178.67 L133.45 178.79 L134.76 178.92 L136.07 179.05 L137.38 179.17 L138.69 179.30 L140.00 179.42 L141.31 179.55 L142.62 179.68 L143.93 179.81 L145.24 179.93 L146.54 180.06 L147.85 180.19 L149.15 180.32 L150.46 180.45 L151.77 180.58 L153.07 180.71 L154.38 180.84 L155.69 180.97 L157.00 181.10 L158.31 181.23 L159.62 181.36 L160.93 181.50 L162.24 181.63 L163.56 181.76 L164.88 181.89 L166.20 182.03 L167.52 182.16 L168.85 182.29 L170.18 182.43 L171.51 182.56 L172.84 182.70 L174.17 182.83 L175.51 182.97 L176.84 183.11 L178.16 183.25 L179.49 183.39 L180.80 183.53 L182.11 183.67 L183.42 183.82 L184.71 183.97 L185.99 184.12 L187.26 184.28 L188.52 184.44 L189.76 184.60 L190.99 184.77 L192.20 184.94 L193.40 185.11 L194.57 185.29 L195.72 185.47 L196.86 185.66 L197.97 185.85 L199.06 186.04 L200.13 186.23 L201.17 186.43 L202.18 186.62 L203.18 186.82 L204.14 187.01 L205.08 187.21 L205.98 187.40 L206.86 187.59 L207.71 187.78 L208.53 187.96 L209.31 188.14 L210.07 188.32 L210.80 188.50 L211.52 188.68 L212.21 188.87 L212.89 189.06 L213.57 189.27 L214.23 189.49 L214.90 189.73 L215.57 189.99 L216.25 190.26 L216.94 190.57 L217.64 190.89 L218.33 191.23 L219.03 191.60 L219.71 191.99 L220.39 192.39 L221.05 192.81 L221.69 193.25 L222.31 193.71 L222.91 194.18 L223.47 194.66 L224.00 195.16 L224.50 195.68 L224.97 196.21 L225.42 196.75 L225.84 197.31 L226.25 197.89 L226.63 198.48 L227.01 199.10 L227.38 199.73 L227.74 200.38 L228.09 201.05 L228.44 201.74 L228.79 202.45 L229.13 203.18 L229.46 203.92 L229.78 204.67 L230.10 205.43 L230.41 206.20 L230.70 206.98 L230.99 207.77 L231.26 208.57 L231.52 209.36 L231.77 210.16 L232.00 210.96 L232.22 211.77 L232.42 212.58 L232.62 213.40 L232.80 214.22 L232.97 215.05 L233.13 215.90 L233.28 216.75 L233.42 217.61 L233.55 218.48 L233.67 219.37 L233.78 220.27 L233.88 221.18 L233.98 222.11 L234.07 223.04 L234.15 223.97 L234.22 224.92 L234.28 225.86 L234.35 226.80 L234.40 227.74 L234.45 228.67 L234.50 229.59 L234.54 230.51 L234.58 231.41 L234.61 232.30 L234.64 233.18 L234.67 234.05 L234.70 234.91 L234.73 235.77 L234.75 236.63 L234.77 237.50 L234.79 238.38 L234.81 239.28 L234.83 240.19 L234.85 241.13 L234.87 242.10 L234.89 243.10 L234.90 244.14 L234.92 245.22 L234.94 246.33 L234.96 247.47 L234.98 248.64 L235.00 249.83 L235.02 251.04 L235.04 252.25 L235.06 253.48 L235.09 254.71 L235.11 255.93 L235.14 257.15 L235.16 258.36 L235.19 259.56 L235.22 260.73 L235.25 261.88 L235.28 263.01 L235.31 264.10 L235.34 265.15 L235.38 266.17 L235.41 267.15 L235.45 268.10 L235.49 269.02 L235.53 269.91 L235.57 270.77 L235.61 271.60 L235.65 272.41 L235.69 273.19 L235.74 273.95 L235.78 274.68 L235.82 275.39 L235.87 276.08 L235.92 276.76 L235.97 277.42 L236.02 278.09 L236.08 278.75 L236.14 279.41 L236.21 280.09 L236.29 280.77 L236.37 281.48 L236.46 282.21 L236.56 282.95 L236.67 283.72 L236.80 284.49 L236.93 285.27 L237.07 286.04 L237.23 286.82 L237.40 287.58 L237.59 288.32 L237.79 289.05 L238.01 289.75 L238.25 290.42 L238.51 291.06 L238.79 291.67 L239.09 292.27 L239.42 292.85 L239.77 293.41 L240.16 293.98 L240.57 294.54 L241.03 295.11 L241.51 295.69 L242.04 296.28 L242.61 296.89 L243.21 297.51 L243.84 298.14 L244.50 298.79 L245.20 299.45 L245.92 300.12 L246.66 300.79 L247.43 301.48 L248.21 302.17 L249.02 302.87 L249.83 303.57 L250.66 304.27 L251.50 304.98 L252.35 305.69 L253.21 306.40 L254.07 307.12 L254.93 307.83 L255.80 308.54 L256.68 309.25 L257.57 309.97 L258.45 310.68 L259.35 311.40 L260.24 312.12 L261.14 312.83 L262.05 313.55 L262.96 314.27 L263.87 314.98 L264.78 315.70 L265.70 316.42 L266.62 317.14 L267.54 317.86 L268.46 318.57 L269.39 319.29 L270.31 320.01 L271.23 320.73 L272.15 321.44 L273.06 322.16 L273.97 322.87 L274.88 323.58 L275.77 324.29 L276.66 325.00 L277.54 325.71 L278.41 326.41 L279.26 327.11 L280.11 327.81 L280.94 328.51 L281.76 329.20 L282.56 329.89 L283.35 330.58 L284.12 331.27 L284.88 331.95 L285.63 332.63 L286.36 333.30 L287.08 333.98 L287.79 334.65 L288.49 335.31 L289.17 335.98 L289.85 336.64 L290.51 337.30 L291.17 337.96 L291.81 338.62 L292.45 339.27 L293.07 339.92 L293.69 340.58 L294.29 341.24 L294.89 341.90 L295.47 342.57 L296.04 343.24 L296.59 343.93 L297.13 344.62 L297.66 345.33 L298.17 346.05 L298.67 346.79 L299.16 347.55 L299.62 348.32 L300.07 349.10 L300.51 349.89 L300.92 350.68 L301.32 351.47 L301.70 352.24 L302.05 352.99 L302.39 353.73 L302.70 354.44 L302.99 355.11 L303.25 355.74 L303.50 356.33 L303.71 356.88 L303.92 357.40 L304.10 357.89 L304.28 358.37 L304.46 358.84 L304.64 359.32 L304.83 359.81 L305.03 360.34 L305.24 360.88 L305.47 361.46 L305.71 362.06 L305.97 362.67 L306.24 363.30 L306.52 363.95 L306.82 364.61 L307.14 365.27 L307.47 365.95 L307.82 366.62 L308.18 367.30 L308.56 367.97 L308.95 368.65 L309.34 369.32 L309.75 370.00 L310.16 370.67 L310.58 371.33 L311.01 371.99 L311.43 372.65 L311.86 373.29 L312.29 373.93 L312.72 374.57 L313.15 375.20 L313.59 375.82 L314.03 376.45 L314.49 377.08 L314.95 377.72 L315.42 378.37 L315.91 379.02 L316.41 379.70 L316.93 380.38 L317.47 381.09 L318.03 381.82 L318.61 382.56 L319.20 383.33 L319.82 384.10 L320.45 384.90 L321.10 385.70 L321.76 386.52 L322.43 387.34 L323.12 388.17 L323.81 389.01 L324.52 389.85 L325.24 390.70 L325.96 391.54 L326.69 392.39 L327.42 393.23 L328.16 394.06 L328.91 394.90 L329.65 395.73 L330.41 396.55 L331.16 397.38 L331.92 398.21 L332.68 399.04 L333.44 399.87 L334.21 400.70 L334.98 401.54 L335.75 402.38 L336.52 403.22 L337.29 404.07 L338.06 404.93 L338.84 405.80 L339.61 406.68 L340.39 407.56 L341.17 408.45 L341.94 409.36 L342.72 410.27 L343.49 411.19 L344.27 412.12 L345.05 413.05 L345.83 413.99 L346.60 414.93 L347.38 415.88 L348.16 416.84 L348.93 417.80 L349.71 418.76 L350.49 419.72 L351.27 420.69 L352.04 421.66 L352.82 422.63 L353.60 423.60"/>
<path class="ld" stroke="#8c564b" stroke-dashoffset="2.7" d="M60.00 165.00 L60.94 165.07 L61.88 165.14 L62.82 165.21 L63.77 165.29 L64.73 165.36 L65.71 165.43 L66.69 165.50 L67.70 165.58 L68.72 165.65 L69.76 165.73 L70.83 165.81 L71.93 165.88 L73.05 165.96 L74.21 166.04 L75.39 166.13 L76.61 166.21 L77.87 166.30 L79.15 166.38 L80.45 166.47 L81.77 166.56 L83.11 166.65 L84.46 166.74 L85.83 166.83 L87.19 166.92 L88.57 167.01 L89.94 167.11 L91.31 167.20 L92.67 167.29 L94.02 167.38 L95.35 167.47 L96.67 167.56 L97.96 167.66 L99.24 167.75 L100.48 167.83 L101.70 167.92 L102.89 168.01 L104.06 168.10 L105.21 168.19 L106.36 168.27 L107.49 168.36 L108.62 168.45 L109.75 168.53 L110.88 168.62 L112.03 168.71 L113.18 168.79 L114.35 168.88 L115.54 168.97 L116.76 169.06 L118.00 169.16 L119.28 169.25 L120.59 169.34 L121.94 169.44 L123.32 169.53 L124.74 169.63 L126.18 169.73 L127.65 169.83 L129.14 169.94 L130.65 170.04 L132.17 170.14 L133.71 170.25 L135.26 170.36 L136.81 170.47 L138.37 170.57 L139.92 170.69 L141.48 170.80 L143.03 170.91 L144.57 171.02 L146.09 171.14 L147.61 171.25 L149.10 171.37 L150.57 171.48 L152.02 171.60 L153.45 171.72 L154.84 171.84 L156.21 171.96 L157.56 172.08 L158.89 172.20 L160.19 172.33 L161.48 172.45 L162.75 172.58 L164.00 172.71 L165.24 172.84 L166.47 172.97 L167.68 173.11 L168.89 173.25 L170.08 173.39 L171.27 173.53 L172.45 173.67 L173.62 173.82 L174.79 173.97 L175.96 174.13 L177.13 174.28 L178.29 174.44 L179.46 174.60 L180.62 174.77 L181.77 174.93 L182.93 175.10 L184.08 175.26 L185.23 175.43 L186.37 175.60 L187.52 175.76 L188.65 175.93 L189.79 176.09 L190.92 176.26 L192.04 176.42 L193.16 176.58 L194.28 176.74 L195.39 176.90 L196.49 177.05 L197.59 177.20 L198.68 177.35 L199.77 177.50 L200.84 177.65 L201.91 177.80 L202.97 177.95 L204.01 178.09 L205.05 178.24 L206.07 178.39 L207.09 178.54 L208.08 178.70 L209.07 178.85 L210.04 179.01 L210.99 179.16 L211.93 179.33 L212.87 179.49 L213.80 179.65 L214.72 179.82 L215.65 179.99 L216.58 180.16 L217.52 180.34 L218.47 180.51 L219.43 180.69 L220.41 180.87 L221.41 181.05 L222.44 181.23 L223.48 181.41 L224.56 181.60 L225.66 181.79 L226.78 181.98 L227.91 182.17 L229.04 182.38 L230.18 182.58 L231.32 182.80 L232.44 183.02 L233.55 183.26 L234.63 183.50 L235.69 183.76 L236.72 184.03 L237.71 184.31 L238.65 184.61 L239.55 184.93 L240.39 185.26 L241.18 185.61 L241.93 185.97 L242.63 186.35 L243.29 186.74 L243.93 187.14 L244.55 187.55 L245.15 187.97 L245.75 188.39 L246.35 188.82 L246.95 189.25 L247.57 189.69 L248.20 190.12 L248.84 190.56 L249.48 191.00 L250.12 191.44 L250.76 191.90 L251.39 192.36 L252.01 192.83 L252.60 193.31 L253.18 193.81 L253.72 194.32 L254.23 194.84 L254.70 195.38 L255.14 195.93 L255.55 196.50 L255.93 197.08 L256.28 197.68 L256.61 198.29 L256.92 198.91 L257.20 199.54 L257.47 200.18 L257.73 200.83 L257.97 201.49 L258.20 202.16 L258.42 202.84 L258.63 203.53 L258.83 204.23 L259.03 204.94 L259.23 205.66 L259.42 206.40 L259.61 207.14 L259.80 207.90 L259.99 208.66 L260.18 209.44 L260.38 210.22 L260.56 211.01 L260.75 211.79 L260.92 212.58 L261.09 213.37 L261.25 214.15 L261.40 214.92 L261.54 215.68 L261.66 216.44 L261.77 217.17 L261.86 217.90 L261.93 218.61 L262.00 219.33 L262.05 220.05 L262.10 220.78 L262.14 221.52 L262.18 222.29 L262.22 223.08 L262.25 223.90 L262.29 224.76 L262.33 225.66 L262.38 226.60 L262.42 227.58 L262.48 228.60 L262.53 229.66 L262.59 230.74 L262.64 231.86 L262.70 233.01 L262.76 234.18 L262.82 235.38 L262.88 236.60 L262.94 237.84 L263.00 239.10 L263.06 240.37 L263.11 241.65 L263.16 242.95 L263.21 244.26 L263.26 245.57 L263.30 246.89 L263.34 248.21 L263.38 249.54 L263.42 250.87 L263.45 252.20 L263.48 253.53 L263.51 254.87 L263.53 256.20 L263.56 257.53 L263.58 258.86 L263.60 260.19 L263.62 261.51 L263.64 262.83 L263.65 264.14 L263.67 265.44 L263.68 266.73 L263.69 268.02 L263.70 269.30 L263.72 270.56 L263.73 271.81 L263.74 273.04 L263.75 274.25 L263.76 275.44 L263.77 276.59 L263.78 277.71 L263.79 278.80 L263.80 279.85 L263.82 280.85 L263.83 281.81 L263.85 282.72 L263.86 283.58 L263.88 284.38 L263.90 285.12 L263.93 285.80 L263.95 286.43 L263.98 287.02 L264.00 287.59 L264.03 288.14 L264.05 288.69 L264.07 289.25 L264.09 289.82 L264.11 290.43 L264.13 291.06 L264.15 291.73 L264.16 292.41 L264.19 293.13 L264.22 293.85 L264.26 294.60 L264.31 295.35 L264.37 296.12 L264.45 296.89 L264.55 297.66 L264.66 298.44 L264.79 299.21 L264.94 299.99 L265.11 300.76 L265.29 301.54 L265.49 302.31 L265.70 303.09 L265.93 303.87 L266.17 304.65 L266.43 305.43 L266.70 306.21 L266.99 306.99 L267.29 307.77 L267.61 308.55 L267.94 309.32 L268.29 310.09 L268.65 310.85 L269.03 311.59 L269.42 312.33 L269.83 313.05 L270.26 313.75 L270.71 314.43 L271.17 315.10 L271.65 315.74 L272.15 316.36 L272.66 316.97 L273.18 317.56 L273.71 318.14 L274.24 318.71 L274.78 319.28 L275.33 319.84 L275.87 320.40 L276.41 320.97 L276.94 321.54 L277.47 322.11 L277.99 322.70 L278.51 323.28 L279.02 323.88 L279.54 324.47 L280.05 325.06 L280.57 325.66 L281.09 326.25 L281.62 326.83 L282.15 327.42 L282.70 327.99 L283.25 328.56 L283.82 329.12 L284.38 329.67 L284.95 330.21 L285.52 330.75 L286.08 331.29 L286.62 331.82 L287.15 332.34 L287.66 332.86 L288.15 333.38 L288.61 333.90 L289.04 334.41 L289.44 334.92 L289.81 335.44 L290.16 335.95 L290.49 336.46 L290.80 336.97 L291.11 337.48 L291.41 337.99 L291.70 338.50"/>
</g>
<rect class="sp" x="73.5" y="54.5" width="496.0" height="370.0"/>
<rect class="lg" x="581.50" y="61.50" width="91.00" height="25.00" rx="2.78" ry="2.78"/>
<line x1="586.5" y1="73.50" x2="614.5" y2="73.50" stroke="#000" stroke-width="2.778" stroke-linecap="square"/><text x="625.29" y="78">Temp.</text>
<rect class="lg" x="581.50" y="287.50" width="80.00" height="130.00" rx="2.78" ry="2.78"/>
<line x1="586.5" y1="299.50" x2="614.5" y2="299.50" stroke="#1f77b4" stroke-width="2.778" stroke-linecap="square"/><text x="624.43" y="304">H2O</text>
<line x1="586.5" y1="320.50" x2="614.5" y2="320.50" stroke="#ff7f0e" stroke-width="2.778" stroke-linecap="square"/><text x="625.05" y="325">SO2</text>
<line x1="586.5" y1="341.50" x2="614.5" y2="341.50" stroke="#2ca02c" stroke-width="2.778" stroke-linecap="square"/><text x="625.31" y="346">CH4</text>
<line x1="586.5" y1="361.50" x2="614.5" y2="361.50" stroke="#d62728" stroke-width="2.778" stroke-linecap="square"/><text x="625.22" y="367">CO2</text>
<line x1="586.5" y1="382.50" x2="614.5" y2="382.50" stroke="#9467bd" stroke-width="2.778" stroke-linecap="square"/><text x="625.32" y="388">CO</text>
<line x1="586.5" y1="403.50" x2="614.5" y2="403.50" stroke="#8c564b" stroke-width="2.778" stroke-linecap="square"/><text x="624.21" y="409">NH3</text>
</svg>
</body>
</html>
